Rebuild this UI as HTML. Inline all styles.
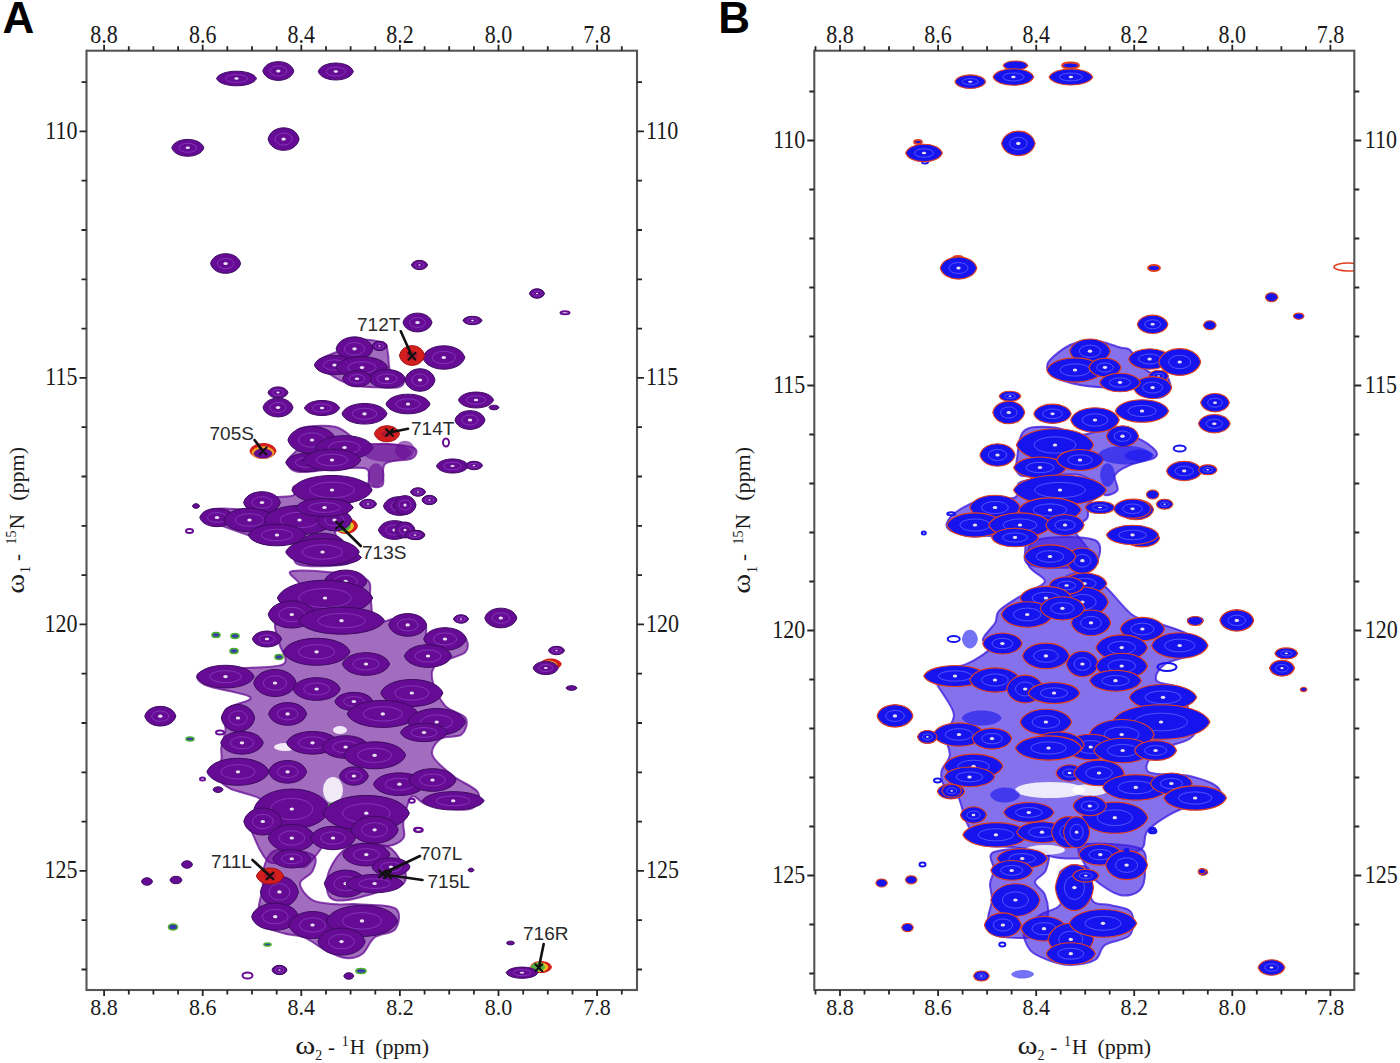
<!DOCTYPE html>
<html><head><meta charset="utf-8"><title>NMR spectra</title>
<style>html,body{margin:0;padding:0;background:#fff;}body{width:1400px;height:1063px;overflow:hidden;}svg{display:block;}</style>
</head><body>
<svg width="1400" height="1063" viewBox="0 0 1400 1063"><g font-family="Liberation Serif, serif" font-size="22" fill="#1a1a1a"></g><g font-family="Liberation Sans, sans-serif" font-weight="bold" font-size="44" fill="#000"><text x="2.6" y="32.6">A</text><text x="718.2" y="32.6">B</text></g><text transform="translate(295.3,1053.6) scale(1.45,1.2)" font-family="Liberation Serif, serif" fill="#1a1a1a" font-size="21">ω</text>
<text x="315.3" y="1060" font-family="Liberation Serif, serif" fill="#1a1a1a" font-size="14">2</text>
<text x="328.0" y="1053.6" font-family="Liberation Serif, serif" fill="#1a1a1a" font-size="21">-</text>
<text x="341.8" y="1046" font-family="Liberation Serif, serif" fill="#1a1a1a" font-size="14">1</text>
<text x="349.7" y="1053.6" font-family="Liberation Serif, serif" fill="#1a1a1a" font-size="21">H</text>
<text x="375.2" y="1053.6" font-family="Liberation Serif, serif" fill="#1a1a1a" font-size="22">(ppm)</text><text transform="translate(1017.5,1053.6) scale(1.45,1.2)" font-family="Liberation Serif, serif" fill="#1a1a1a" font-size="21">ω</text>
<text x="1037.5" y="1060" font-family="Liberation Serif, serif" fill="#1a1a1a" font-size="14">2</text>
<text x="1050.2" y="1053.6" font-family="Liberation Serif, serif" fill="#1a1a1a" font-size="21">-</text>
<text x="1064.0" y="1046" font-family="Liberation Serif, serif" fill="#1a1a1a" font-size="14">1</text>
<text x="1071.9" y="1053.6" font-family="Liberation Serif, serif" fill="#1a1a1a" font-size="21">H</text>
<text x="1097.4" y="1053.6" font-family="Liberation Serif, serif" fill="#1a1a1a" font-size="22">(ppm)</text><g transform="translate(23.5,0) rotate(-90)">
<text transform="translate(-593.8,0) scale(1.45,1.2)" font-family="Liberation Serif, serif" fill="#1a1a1a" font-size="21">ω</text>
<text x="-573" y="6.5" font-family="Liberation Serif, serif" fill="#1a1a1a" font-size="14">1</text>
<text x="-561" y="0" font-family="Liberation Serif, serif" fill="#1a1a1a" font-size="21">-</text>
<text x="-544.5" y="-7.5" font-family="Liberation Serif, serif" fill="#1a1a1a" font-size="14">15</text>
<text x="-529.3" y="0" font-family="Liberation Serif, serif" fill="#1a1a1a" font-size="21">N</text>
<text x="-500.8" y="0" font-family="Liberation Serif, serif" fill="#1a1a1a" font-size="22">(ppm)</text>
</g><g transform="translate(750.2,0) rotate(-90)">
<text transform="translate(-593.8,0) scale(1.45,1.2)" font-family="Liberation Serif, serif" fill="#1a1a1a" font-size="21">ω</text>
<text x="-573" y="6.5" font-family="Liberation Serif, serif" fill="#1a1a1a" font-size="14">1</text>
<text x="-561" y="0" font-family="Liberation Serif, serif" fill="#1a1a1a" font-size="21">-</text>
<text x="-544.5" y="-7.5" font-family="Liberation Serif, serif" fill="#1a1a1a" font-size="14">15</text>
<text x="-529.3" y="0" font-family="Liberation Serif, serif" fill="#1a1a1a" font-size="21">N</text>
<text x="-500.8" y="0" font-family="Liberation Serif, serif" fill="#1a1a1a" font-size="22">(ppm)</text>
</g><clipPath id="clipA"><rect x="86.5" y="50.7" width="550.5" height="939.3"/></clipPath>
<g clip-path="url(#clipA)">
<path d="M292.9 571.0C303.3 569.6 349.3 572.8 362.2 577.3C375.1 581.8 368.3 590.4 370.4 598.0C372.5 605.6 370.5 619.3 374.6 622.8C378.8 626.2 387.0 618.7 395.3 618.7C403.6 618.7 418.7 619.3 424.2 622.8C429.7 626.2 422.2 637.3 428.4 639.4C434.6 641.5 455.3 633.1 461.5 635.2C467.7 637.3 469.7 647.0 465.6 651.8C461.5 656.6 442.2 659.4 436.7 664.2C431.2 669.0 431.1 673.9 432.5 680.8C433.9 687.7 439.5 699.4 445.0 705.6C450.5 711.8 462.9 713.2 465.6 718.0C468.4 722.8 465.6 731.1 461.5 734.6C457.4 738.1 445.6 735.2 440.8 738.7C436.0 742.2 430.4 749.1 432.5 755.3C434.6 761.5 445.6 769.8 453.2 776.0C460.8 782.2 475.2 787.0 478.0 792.5C480.8 798.0 478.1 806.9 469.8 809.0C461.5 811.1 438.1 807.0 428.4 805.0C418.7 803.0 415.9 794.0 411.8 796.7C407.7 799.5 404.9 814.6 403.5 821.5C402.1 828.4 406.2 833.9 403.5 838.0C400.8 842.1 395.3 844.9 387.0 846.3C378.7 847.7 362.2 849.0 353.9 846.3C345.6 843.5 343.5 828.4 337.3 829.8C331.1 831.2 322.1 848.4 316.6 854.6C311.1 860.8 309.0 865.6 304.2 867.0C299.4 868.4 293.1 863.6 287.6 862.9C282.1 862.2 275.1 864.3 271.0 862.9C266.9 861.5 265.6 858.8 262.8 854.6C260.1 850.5 256.6 843.5 254.5 838.0C252.4 832.5 249.0 827.7 250.4 821.5C251.8 815.3 266.2 806.3 262.8 800.8C259.4 795.3 237.3 792.5 229.7 788.4C222.1 784.3 218.7 780.8 217.3 776.0C215.9 771.2 220.7 764.2 221.4 759.4C222.1 754.6 220.7 751.8 221.4 747.0C222.1 742.2 224.8 736.6 225.5 730.4C226.2 724.2 221.3 715.2 225.5 709.7C229.7 704.2 253.8 701.4 250.4 697.3C247.0 693.2 213.1 689.0 204.8 684.9C196.5 680.8 194.5 675.3 200.7 672.5C206.9 669.7 228.3 669.7 242.1 668.3C255.9 666.9 277.3 668.3 283.5 664.2C289.7 660.1 280.8 650.4 279.4 643.5C278.0 636.6 273.8 629.7 275.2 622.8C276.6 615.9 283.5 608.3 287.6 602.1C291.7 595.9 299.1 590.7 300.0 585.5C300.9 580.3 282.5 572.4 292.9 571.0Z" fill="#660c94" fill-opacity="0.6" stroke="#660c94" stroke-opacity="0.75" stroke-width="2"/>
<path d="M275.2 850.5C283.5 847.7 306.3 851.1 312.5 854.6C318.7 858.1 314.6 866.4 312.5 871.2C310.4 876.0 300.0 878.8 300.0 883.6C300.0 888.4 306.3 896.8 312.5 900.2C318.7 903.7 329.7 903.6 337.3 904.3C344.9 905.0 348.3 903.6 358.0 904.3C367.7 905.0 389.1 904.3 395.3 908.4C401.5 912.5 398.8 924.3 395.3 929.1C391.9 933.9 380.1 933.2 374.6 937.4C369.1 941.5 367.0 950.5 362.2 954.0C357.4 957.5 351.8 958.8 345.6 958.1C339.4 957.4 331.8 953.2 324.9 949.8C318.0 946.3 311.1 940.1 304.2 937.4C297.3 934.6 290.4 935.4 283.5 933.3C276.6 931.2 266.9 929.1 262.8 925.0C258.7 920.9 258.7 914.6 258.7 908.4C258.7 902.2 262.1 893.9 262.8 887.7C263.5 881.5 260.7 877.4 262.8 871.2C264.9 865.0 266.9 853.3 275.2 850.5Z" fill="#660c94" fill-opacity="0.6" stroke="#660c94" stroke-opacity="0.75" stroke-width="2"/>
<path d="M349.7 846.3C359.4 842.1 378.0 842.8 387.0 846.3C396.0 849.8 400.8 860.8 403.5 867.0C406.2 873.2 407.6 879.5 403.5 883.6C399.4 887.8 388.3 889.1 378.7 891.9C369.1 894.7 353.9 899.5 345.6 900.2C337.3 900.9 331.8 900.8 329.0 896.0C326.2 891.2 325.6 879.5 329.0 871.2C332.4 862.9 340.0 850.4 349.7 846.3Z" fill="#660c94" fill-opacity="0.6" stroke="#660c94" stroke-opacity="0.75" stroke-width="2"/>
<path d="M298.0 429.5C304.2 426.0 324.4 424.6 335.0 426.8C345.6 429.0 352.6 439.8 361.4 442.7C370.2 445.6 379.0 443.1 387.8 444.0C396.6 444.9 410.3 445.6 414.3 448.0C418.3 450.4 416.5 456.0 411.6 458.6C406.8 461.2 390.0 459.4 385.2 463.8C380.4 468.2 385.2 481.5 382.6 485.0C380.0 488.5 372.0 487.7 369.3 485.0C366.6 482.3 372.4 471.7 366.7 469.0C361.0 466.3 346.4 468.5 335.0 469.0C323.6 469.5 305.9 473.1 298.0 471.8C290.1 470.5 287.4 465.2 287.4 461.2C287.4 457.2 296.2 453.3 298.0 448.0C299.8 442.7 291.8 433.0 298.0 429.5Z" fill="#660c94" fill-opacity="0.6" stroke="#660c94" stroke-opacity="0.75" stroke-width="2"/>
<path d="M298.0 485.0C309.4 482.8 349.9 481.4 361.4 482.3C372.8 483.2 368.5 487.2 366.7 490.3C364.9 493.4 354.3 496.0 350.8 500.8C347.3 505.6 345.6 514.9 345.6 519.3C345.6 523.7 352.6 525.1 350.8 527.3C349.0 529.5 335.0 528.2 335.0 532.6C335.0 537.0 349.0 548.4 350.8 553.7C352.6 559.0 354.4 562.5 345.6 564.3C336.8 566.1 306.8 567.8 298.0 564.3C289.2 560.8 298.0 547.1 292.7 543.1C287.4 539.1 278.6 543.6 266.3 540.5C254.0 537.4 229.3 528.6 218.7 524.6C208.1 520.6 202.9 519.3 202.9 516.7C202.9 514.1 210.8 510.1 218.7 508.8C226.6 507.5 243.3 510.6 250.4 508.8C257.4 507.0 253.9 500.4 261.0 498.2C268.1 496.0 286.5 497.8 292.7 495.6C298.9 493.4 286.6 487.2 298.0 485.0Z" fill="#660c94" fill-opacity="0.6" stroke="#660c94" stroke-opacity="0.75" stroke-width="2"/>
<path d="M319.1 360.8C320.9 356.8 335.0 353.7 340.3 350.2C345.6 346.7 343.8 340.9 350.8 339.6C357.9 338.3 376.4 340.1 382.6 342.3C388.8 344.5 386.5 348.0 387.8 352.9C389.1 357.8 387.9 367.0 390.5 371.4C393.1 375.8 402.4 376.7 403.7 379.3C405.0 381.9 403.7 385.9 398.4 387.2C393.1 388.5 379.9 387.6 372.0 387.2C364.1 386.8 357.9 386.8 350.8 384.6C343.8 382.4 335.0 378.0 329.7 374.0C324.4 370.0 317.3 364.8 319.1 360.8Z" fill="#660c94" fill-opacity="0.6" stroke="#660c94" stroke-opacity="0.75" stroke-width="2"/>
<ellipse cx="333" cy="790" rx="10.0" ry="13.0" fill="#fff" fill-opacity="0.85"/>
<ellipse cx="285" cy="747" rx="11.0" ry="4.0" fill="#fff" fill-opacity="0.85"/>
<ellipse cx="340" cy="730" rx="7.0" ry="4.0" fill="#fff" fill-opacity="0.85"/>
<path d="M216.5 78.5C220.5 68.8 252.5 68.8 256.5 78.5C252.5 88.2 220.5 88.2 216.5 78.5Z" fill="#660c94" stroke="#3c0a60" stroke-width="1"/>
<ellipse cx="236.5" cy="78.5" rx="11.0" ry="3.9" fill="none" stroke="#8a3cc0" stroke-width="1" stroke-opacity="0.8"/>
<ellipse cx="236.5" cy="78.5" rx="2.2" ry="1.2" fill="#e8e0f0"/>
<path d="M262.8 71.0C265.9 58.5 290.7 58.5 293.8 71.0C290.7 83.5 265.9 83.5 262.8 71.0Z" fill="#660c94" stroke="#3c0a60" stroke-width="1"/>
<ellipse cx="278.3" cy="71.0" rx="8.5" ry="5.0" fill="none" stroke="#8a3cc0" stroke-width="1" stroke-opacity="0.8"/>
<ellipse cx="278.3" cy="71.0" rx="2.2" ry="1.5" fill="#e8e0f0"/>
<path d="M318.3 71.5C321.8 60.2 349.8 60.2 353.3 71.5C349.8 82.8 321.8 82.8 318.3 71.5Z" fill="#660c94" stroke="#3c0a60" stroke-width="1"/>
<ellipse cx="335.8" cy="71.5" rx="9.6" ry="4.5" fill="none" stroke="#8a3cc0" stroke-width="1" stroke-opacity="0.8"/>
<ellipse cx="335.8" cy="71.5" rx="2.2" ry="1.3" fill="#e8e0f0"/>
<path d="M171.8 147.8C175.0 136.6 200.6 136.6 203.8 147.8C200.6 159.1 175.0 159.1 171.8 147.8Z" fill="#660c94" stroke="#3c0a60" stroke-width="1"/>
<ellipse cx="187.8" cy="147.8" rx="8.8" ry="4.5" fill="none" stroke="#8a3cc0" stroke-width="1" stroke-opacity="0.8"/>
<ellipse cx="187.8" cy="147.8" rx="2.2" ry="1.3" fill="#e8e0f0"/>
<path d="M268.1 139.1C271.2 124.1 296.0 124.1 299.1 139.1C296.0 154.1 271.2 154.1 268.1 139.1Z" fill="#660c94" stroke="#3c0a60" stroke-width="1"/>
<ellipse cx="283.6" cy="139.1" rx="8.5" ry="6.0" fill="none" stroke="#8a3cc0" stroke-width="1" stroke-opacity="0.8"/>
<ellipse cx="283.6" cy="139.1" rx="2.2" ry="1.6" fill="#e8e0f0"/>
<path d="M210.6 263.5C213.6 250.4 237.6 250.4 240.6 263.5C237.6 276.6 213.6 276.6 210.6 263.5Z" fill="#660c94" stroke="#3c0a60" stroke-width="1"/>
<ellipse cx="225.6" cy="263.5" rx="8.2" ry="5.2" fill="none" stroke="#8a3cc0" stroke-width="1" stroke-opacity="0.8"/>
<ellipse cx="225.6" cy="263.5" rx="2.2" ry="1.6" fill="#e8e0f0"/>
<path d="M411.5 265.0C413.1 258.8 425.9 258.8 427.5 265.0C425.9 271.2 413.1 271.2 411.5 265.0Z" fill="#660c94" stroke="#3c0a60" stroke-width="1"/>
<ellipse cx="419.5" cy="265.0" rx="4.4" ry="2.5" fill="none" stroke="#8a3cc0" stroke-width="1" stroke-opacity="0.8"/>
<ellipse cx="419.5" cy="265.0" rx="1.2" ry="0.8" fill="#e8e0f0"/>
<path d="M529.5 293.5C531.0 287.2 543.0 287.2 544.5 293.5C543.0 299.8 531.0 299.8 529.5 293.5Z" fill="#660c94" stroke="#3c0a60" stroke-width="1"/>
<ellipse cx="537.0" cy="293.5" rx="4.1" ry="2.5" fill="none" stroke="#8a3cc0" stroke-width="1" stroke-opacity="0.8"/>
<ellipse cx="537.0" cy="293.5" rx="1.1" ry="0.8" fill="#e8e0f0"/>
<ellipse cx="565.0" cy="312.8" rx="4.5" ry="1.5" fill="none" stroke="#660c94" stroke-width="2"/>
<path d="M403.0 322.5C405.9 310.0 429.1 310.0 432.0 322.5C429.1 335.0 405.9 335.0 403.0 322.5Z" fill="#660c94" stroke="#3c0a60" stroke-width="1"/>
<ellipse cx="417.5" cy="322.5" rx="8.0" ry="5.0" fill="none" stroke="#8a3cc0" stroke-width="1" stroke-opacity="0.8"/>
<ellipse cx="417.5" cy="322.5" rx="2.2" ry="1.5" fill="#e8e0f0"/>
<path d="M336.1 348.8C339.8 332.9 369.2 332.9 372.9 348.8C369.2 364.6 339.8 364.6 336.1 348.8Z" fill="#660c94" stroke="#3c0a60" stroke-width="1"/>
<ellipse cx="354.5" cy="348.8" rx="10.1" ry="6.3" fill="none" stroke="#8a3cc0" stroke-width="1" stroke-opacity="0.8"/>
<ellipse cx="354.5" cy="348.8" rx="2.2" ry="1.6" fill="#e8e0f0"/>
<path d="M372.0 346.0C373.5 339.8 385.5 339.8 387.0 346.0C385.5 352.2 373.5 352.2 372.0 346.0Z" fill="#660c94" stroke="#3c0a60" stroke-width="1"/>
<ellipse cx="379.5" cy="346.0" rx="4.1" ry="2.5" fill="none" stroke="#8a3cc0" stroke-width="1" stroke-opacity="0.8"/>
<ellipse cx="379.5" cy="346.0" rx="1.1" ry="0.8" fill="#e8e0f0"/>
<path d="M314.4 365.0C318.4 352.1 350.6 352.1 354.6 365.0C350.6 377.9 318.4 377.9 314.4 365.0Z" fill="#660c94" stroke="#3c0a60" stroke-width="1"/>
<ellipse cx="334.5" cy="365.0" rx="11.1" ry="5.2" fill="none" stroke="#8a3cc0" stroke-width="1" stroke-opacity="0.8"/>
<ellipse cx="334.5" cy="365.0" rx="2.2" ry="1.6" fill="#e8e0f0"/>
<path d="M336.1 367.5C341.3 353.1 382.7 353.1 387.9 367.5C382.7 381.9 341.3 381.9 336.1 367.5Z" fill="#660c94" stroke="#3c0a60" stroke-width="1"/>
<ellipse cx="362.0" cy="367.5" rx="14.2" ry="5.8" fill="none" stroke="#8a3cc0" stroke-width="1" stroke-opacity="0.8"/>
<ellipse cx="362.0" cy="367.5" rx="2.2" ry="1.6" fill="#e8e0f0"/>
<path d="M368.6 378.8C372.3 366.5 401.7 366.5 405.4 378.8C401.7 391.0 372.3 391.0 368.6 378.8Z" fill="#660c94" stroke="#3c0a60" stroke-width="1"/>
<ellipse cx="387.0" cy="378.8" rx="10.1" ry="4.9" fill="none" stroke="#8a3cc0" stroke-width="1" stroke-opacity="0.8"/>
<ellipse cx="387.0" cy="378.8" rx="2.2" ry="1.5" fill="#e8e0f0"/>
<path d="M342.6 378.8C345.5 368.0 368.5 368.0 371.4 378.8C368.5 389.5 345.5 389.5 342.6 378.8Z" fill="#660c94" stroke="#3c0a60" stroke-width="1"/>
<ellipse cx="357.0" cy="378.8" rx="7.9" ry="4.3" fill="none" stroke="#8a3cc0" stroke-width="1" stroke-opacity="0.8"/>
<ellipse cx="357.0" cy="378.8" rx="2.2" ry="1.3" fill="#e8e0f0"/>
<path d="M405.0 380.0C408.0 365.0 432.0 365.0 435.0 380.0C432.0 395.0 408.0 395.0 405.0 380.0Z" fill="#660c94" stroke="#3c0a60" stroke-width="1"/>
<ellipse cx="420.0" cy="380.0" rx="8.2" ry="6.0" fill="none" stroke="#8a3cc0" stroke-width="1" stroke-opacity="0.8"/>
<ellipse cx="420.0" cy="380.0" rx="2.2" ry="1.6" fill="#e8e0f0"/>
<path d="M268.0 392.5C270.0 385.0 286.0 385.0 288.0 392.5C286.0 400.0 270.0 400.0 268.0 392.5Z" fill="#660c94" stroke="#3c0a60" stroke-width="1"/>
<ellipse cx="278.0" cy="392.5" rx="5.5" ry="3.0" fill="none" stroke="#8a3cc0" stroke-width="1" stroke-opacity="0.8"/>
<ellipse cx="278.0" cy="392.5" rx="1.5" ry="0.9" fill="#e8e0f0"/>
<path d="M263.0 407.5C266.0 395.0 290.0 395.0 293.0 407.5C290.0 420.0 266.0 420.0 263.0 407.5Z" fill="#660c94" stroke="#3c0a60" stroke-width="1"/>
<ellipse cx="278.0" cy="407.5" rx="8.2" ry="5.0" fill="none" stroke="#8a3cc0" stroke-width="1" stroke-opacity="0.8"/>
<ellipse cx="278.0" cy="407.5" rx="2.2" ry="1.5" fill="#e8e0f0"/>
<path d="M304.5 408.0C308.0 398.0 336.0 398.0 339.5 408.0C336.0 418.0 308.0 418.0 304.5 408.0Z" fill="#660c94" stroke="#3c0a60" stroke-width="1"/>
<ellipse cx="322.0" cy="408.0" rx="9.6" ry="4.0" fill="none" stroke="#8a3cc0" stroke-width="1" stroke-opacity="0.8"/>
<ellipse cx="322.0" cy="408.0" rx="2.2" ry="1.2" fill="#e8e0f0"/>
<path d="M342.0 413.8C346.5 400.0 382.5 400.0 387.0 413.8C382.5 427.5 346.5 427.5 342.0 413.8Z" fill="#660c94" stroke="#3c0a60" stroke-width="1"/>
<ellipse cx="364.5" cy="413.8" rx="12.4" ry="5.5" fill="none" stroke="#8a3cc0" stroke-width="1" stroke-opacity="0.8"/>
<ellipse cx="364.5" cy="413.8" rx="2.2" ry="1.6" fill="#e8e0f0"/>
<path d="M386.0 404.0C390.4 390.9 425.6 390.9 430.0 404.0C425.6 417.1 390.4 417.1 386.0 404.0Z" fill="#660c94" stroke="#3c0a60" stroke-width="1"/>
<ellipse cx="408.0" cy="404.0" rx="12.1" ry="5.2" fill="none" stroke="#8a3cc0" stroke-width="1" stroke-opacity="0.8"/>
<ellipse cx="408.0" cy="404.0" rx="2.2" ry="1.6" fill="#e8e0f0"/>
<path d="M287.9 440.0C292.7 422.0 331.3 422.0 336.1 440.0C331.3 458.0 292.7 458.0 287.9 440.0Z" fill="#660c94" stroke="#3c0a60" stroke-width="1"/>
<ellipse cx="312.0" cy="440.0" rx="13.3" ry="7.2" fill="none" stroke="#8a3cc0" stroke-width="1" stroke-opacity="0.8"/>
<ellipse cx="312.0" cy="440.0" rx="2.2" ry="1.6" fill="#e8e0f0"/>
<path d="M315.8 447.5C321.5 431.7 367.5 431.7 373.2 447.5C367.5 463.3 321.5 463.3 315.8 447.5Z" fill="#660c94" stroke="#3c0a60" stroke-width="1"/>
<ellipse cx="344.5" cy="447.5" rx="15.8" ry="6.3" fill="none" stroke="#8a3cc0" stroke-width="1" stroke-opacity="0.8"/>
<ellipse cx="344.5" cy="447.5" rx="2.2" ry="1.6" fill="#e8e0f0"/>
<path d="M285.7 462.5C290.0 450.3 324.0 450.3 328.3 462.5C324.0 474.7 290.0 474.7 285.7 462.5Z" fill="#660c94" stroke="#3c0a60" stroke-width="1"/>
<ellipse cx="307.0" cy="462.5" rx="11.7" ry="4.9" fill="none" stroke="#8a3cc0" stroke-width="1" stroke-opacity="0.8"/>
<ellipse cx="307.0" cy="462.5" rx="2.2" ry="1.5" fill="#e8e0f0"/>
<path d="M303.2 460.0C309.0 445.6 355.0 445.6 360.8 460.0C355.0 474.4 309.0 474.4 303.2 460.0Z" fill="#660c94" stroke="#3c0a60" stroke-width="1"/>
<ellipse cx="332.0" cy="460.0" rx="15.8" ry="5.8" fill="none" stroke="#8a3cc0" stroke-width="1" stroke-opacity="0.8"/>
<ellipse cx="332.0" cy="460.0" rx="2.2" ry="1.6" fill="#e8e0f0"/>
<path d="M362.0 452.5C367.0 440.0 407.0 440.0 412.0 452.5C407.0 465.0 367.0 465.0 362.0 452.5Z" fill="#660c94" fill-opacity="0.6"/>
<path d="M367.5 475.0C369.2 459.4 382.8 459.4 384.5 475.0C382.8 490.6 369.2 490.6 367.5 475.0Z" fill="#660c94" fill-opacity="0.6"/>
<path d="M291.8 490.0C299.8 470.6 364.2 470.6 372.2 490.0C364.2 509.4 299.8 509.4 291.8 490.0Z" fill="#660c94" stroke="#3c0a60" stroke-width="1"/>
<ellipse cx="332.0" cy="490.0" rx="22.1" ry="7.8" fill="none" stroke="#8a3cc0" stroke-width="1" stroke-opacity="0.8"/>
<ellipse cx="332.0" cy="490.0" rx="2.2" ry="1.6" fill="#e8e0f0"/>
<path d="M243.6 502.5C247.3 488.1 276.7 488.1 280.4 502.5C276.7 516.9 247.3 516.9 243.6 502.5Z" fill="#660c94" stroke="#3c0a60" stroke-width="1"/>
<ellipse cx="262.0" cy="502.5" rx="10.1" ry="5.8" fill="none" stroke="#8a3cc0" stroke-width="1" stroke-opacity="0.8"/>
<ellipse cx="262.0" cy="502.5" rx="2.2" ry="1.6" fill="#e8e0f0"/>
<path d="M199.8 517.5C203.2 505.3 230.8 505.3 234.2 517.5C230.8 529.7 203.2 529.7 199.8 517.5Z" fill="#660c94" stroke="#3c0a60" stroke-width="1"/>
<ellipse cx="217.0" cy="517.5" rx="9.5" ry="4.9" fill="none" stroke="#8a3cc0" stroke-width="1" stroke-opacity="0.8"/>
<ellipse cx="217.0" cy="517.5" rx="2.2" ry="1.5" fill="#e8e0f0"/>
<path d="M223.6 520.0C228.8 504.2 270.2 504.2 275.4 520.0C270.2 535.8 228.8 535.8 223.6 520.0Z" fill="#660c94" stroke="#3c0a60" stroke-width="1"/>
<ellipse cx="249.5" cy="520.0" rx="14.2" ry="6.3" fill="none" stroke="#8a3cc0" stroke-width="1" stroke-opacity="0.8"/>
<ellipse cx="249.5" cy="520.0" rx="2.2" ry="1.6" fill="#e8e0f0"/>
<path d="M263.9 520.0C271.0 500.6 328.0 500.6 335.1 520.0C328.0 539.4 271.0 539.4 263.9 520.0Z" fill="#660c94" stroke="#3c0a60" stroke-width="1"/>
<ellipse cx="299.5" cy="520.0" rx="19.6" ry="7.8" fill="none" stroke="#8a3cc0" stroke-width="1" stroke-opacity="0.8"/>
<ellipse cx="299.5" cy="520.0" rx="2.2" ry="1.6" fill="#e8e0f0"/>
<path d="M248.2 535.0C254.0 520.6 300.0 520.6 305.8 535.0C300.0 549.4 254.0 549.4 248.2 535.0Z" fill="#660c94" stroke="#3c0a60" stroke-width="1"/>
<ellipse cx="277.0" cy="535.0" rx="15.8" ry="5.8" fill="none" stroke="#8a3cc0" stroke-width="1" stroke-opacity="0.8"/>
<ellipse cx="277.0" cy="535.0" rx="2.2" ry="1.6" fill="#e8e0f0"/>
<path d="M334.0 526.0C336.4 515.4 355.6 515.4 358.0 526.0C355.6 536.6 336.4 536.6 334.0 526.0Z" fill="#d41e1e"/>
<path d="M334.9 526.0C336.8 517.5 352.2 517.5 354.1 526.0C352.2 534.5 336.8 534.5 334.9 526.0Z" fill="#e8c020"/>
<path d="M335.2 526.0C336.8 518.6 349.2 518.6 350.8 526.0C349.2 533.4 336.8 533.4 335.2 526.0Z" fill="#50b040"/>
<path d="M317.2 520.0C320.7 505.6 348.3 505.6 351.8 520.0C348.3 534.4 320.7 534.4 317.2 520.0Z" fill="#660c94" stroke="#3c0a60" stroke-width="1"/>
<ellipse cx="334.5" cy="520.0" rx="9.5" ry="5.8" fill="none" stroke="#8a3cc0" stroke-width="1" stroke-opacity="0.8"/>
<ellipse cx="334.5" cy="520.0" rx="2.2" ry="1.6" fill="#e8e0f0"/>
<path d="M295.8 507.5C301.5 495.3 347.5 495.3 353.2 507.5C347.5 519.7 301.5 519.7 295.8 507.5Z" fill="#660c94" stroke="#3c0a60" stroke-width="1"/>
<ellipse cx="324.5" cy="507.5" rx="15.8" ry="4.9" fill="none" stroke="#8a3cc0" stroke-width="1" stroke-opacity="0.8"/>
<ellipse cx="324.5" cy="507.5" rx="2.2" ry="1.5" fill="#e8e0f0"/>
<path d="M192.5 506.0C193.2 502.9 198.8 502.9 199.5 506.0C198.8 509.1 193.2 509.1 192.5 506.0Z" fill="#660c94" stroke="#3c0a60" stroke-width="1"/>
<ellipse cx="189.5" cy="531.0" rx="3.5" ry="2.0" fill="none" stroke="#660c94" stroke-width="2"/>
<path d="M299.0 544.0C303.6 529.6 340.4 529.6 345.0 544.0C340.4 558.4 303.6 558.4 299.0 544.0Z" fill="#660c94" stroke="#3c0a60" stroke-width="1"/>
<ellipse cx="322.0" cy="544.0" rx="12.7" ry="5.8" fill="none" stroke="#8a3cc0" stroke-width="1" stroke-opacity="0.8"/>
<ellipse cx="322.0" cy="544.0" rx="2.2" ry="1.6" fill="#e8e0f0"/>
<path d="M292.5 557.5C299.4 546.7 354.6 546.7 361.5 557.5C354.6 568.3 299.4 568.3 292.5 557.5Z" fill="#660c94" stroke="#3c0a60" stroke-width="1"/>
<ellipse cx="327.0" cy="557.5" rx="19.0" ry="4.3" fill="none" stroke="#8a3cc0" stroke-width="1" stroke-opacity="0.8"/>
<ellipse cx="327.0" cy="557.5" rx="2.2" ry="1.3" fill="#e8e0f0"/>
<path d="M410.5 492.0C412.0 486.4 424.0 486.4 425.5 492.0C424.0 497.6 412.0 497.6 410.5 492.0Z" fill="#660c94" stroke="#3c0a60" stroke-width="1"/>
<ellipse cx="418.0" cy="492.0" rx="4.1" ry="2.2" fill="none" stroke="#8a3cc0" stroke-width="1" stroke-opacity="0.8"/>
<ellipse cx="418.0" cy="492.0" rx="1.1" ry="0.7" fill="#e8e0f0"/>
<path d="M422.0 500.0C423.5 493.8 435.5 493.8 437.0 500.0C435.5 506.2 423.5 506.2 422.0 500.0Z" fill="#660c94" stroke="#3c0a60" stroke-width="1"/>
<ellipse cx="429.5" cy="500.0" rx="4.1" ry="2.5" fill="none" stroke="#8a3cc0" stroke-width="1" stroke-opacity="0.8"/>
<ellipse cx="429.5" cy="500.0" rx="1.1" ry="0.8" fill="#e8e0f0"/>
<path d="M359.5 504.0C361.2 497.8 374.8 497.8 376.5 504.0C374.8 510.2 361.2 510.2 359.5 504.0Z" fill="#660c94" stroke="#3c0a60" stroke-width="1"/>
<ellipse cx="368.0" cy="504.0" rx="4.7" ry="2.5" fill="none" stroke="#8a3cc0" stroke-width="1" stroke-opacity="0.8"/>
<ellipse cx="368.0" cy="504.0" rx="1.3" ry="0.8" fill="#e8e0f0"/>
<path d="M383.5 506.0C386.7 493.5 412.3 493.5 415.5 506.0C412.3 518.5 386.7 518.5 383.5 506.0Z" fill="#660c94" stroke="#3c0a60" stroke-width="1"/>
<ellipse cx="399.5" cy="506.0" rx="8.8" ry="5.0" fill="none" stroke="#8a3cc0" stroke-width="1" stroke-opacity="0.8"/>
<ellipse cx="399.5" cy="506.0" rx="2.2" ry="1.5" fill="#e8e0f0"/>
<path d="M378.5 530.0C381.7 517.5 407.3 517.5 410.5 530.0C407.3 542.5 381.7 542.5 378.5 530.0Z" fill="#660c94" stroke="#3c0a60" stroke-width="1"/>
<ellipse cx="394.5" cy="530.0" rx="8.8" ry="5.0" fill="none" stroke="#8a3cc0" stroke-width="1" stroke-opacity="0.8"/>
<ellipse cx="394.5" cy="530.0" rx="2.2" ry="1.5" fill="#e8e0f0"/>
<path d="M409.5 535.0C411.0 528.8 423.0 528.8 424.5 535.0C423.0 541.2 411.0 541.2 409.5 535.0Z" fill="#660c94" stroke="#3c0a60" stroke-width="1"/>
<ellipse cx="417.0" cy="535.0" rx="4.1" ry="2.5" fill="none" stroke="#8a3cc0" stroke-width="1" stroke-opacity="0.8"/>
<ellipse cx="417.0" cy="535.0" rx="1.1" ry="0.8" fill="#e8e0f0"/>
<path d="M463.0 320.5C464.9 314.9 480.1 314.9 482.0 320.5C480.1 326.1 464.9 326.1 463.0 320.5Z" fill="#660c94" stroke="#3c0a60" stroke-width="1"/>
<ellipse cx="472.5" cy="320.5" rx="5.2" ry="2.2" fill="none" stroke="#8a3cc0" stroke-width="1" stroke-opacity="0.8"/>
<ellipse cx="472.5" cy="320.5" rx="1.4" ry="0.7" fill="#e8e0f0"/>
<path d="M422.8 357.5C426.9 341.9 460.6 341.9 464.8 357.5C460.6 373.1 426.9 373.1 422.8 357.5Z" fill="#660c94" stroke="#3c0a60" stroke-width="1"/>
<ellipse cx="443.8" cy="357.5" rx="11.6" ry="6.2" fill="none" stroke="#8a3cc0" stroke-width="1" stroke-opacity="0.8"/>
<ellipse cx="443.8" cy="357.5" rx="2.2" ry="1.6" fill="#e8e0f0"/>
<path d="M458.5 400.0C462.0 389.4 490.0 389.4 493.5 400.0C490.0 410.6 462.0 410.6 458.5 400.0Z" fill="#660c94" stroke="#3c0a60" stroke-width="1"/>
<ellipse cx="476.0" cy="400.0" rx="9.6" ry="4.2" fill="none" stroke="#8a3cc0" stroke-width="1" stroke-opacity="0.8"/>
<ellipse cx="476.0" cy="400.0" rx="2.2" ry="1.3" fill="#e8e0f0"/>
<path d="M489.0 407.5C490.0 404.4 498.0 404.4 499.0 407.5C498.0 410.6 490.0 410.6 489.0 407.5Z" fill="#660c94" stroke="#3c0a60" stroke-width="1"/>
<path d="M455.0 420.0C458.0 407.5 482.0 407.5 485.0 420.0C482.0 432.5 458.0 432.5 455.0 420.0Z" fill="#660c94" stroke="#3c0a60" stroke-width="1"/>
<ellipse cx="470.0" cy="420.0" rx="8.2" ry="5.0" fill="none" stroke="#8a3cc0" stroke-width="1" stroke-opacity="0.8"/>
<ellipse cx="470.0" cy="420.0" rx="2.2" ry="1.5" fill="#e8e0f0"/>
<path d="M395.0 450.0C397.0 437.5 413.0 437.5 415.0 450.0C413.0 462.5 397.0 462.5 395.0 450.0Z" fill="#660c94" fill-opacity="0.6"/>
<ellipse cx="446.0" cy="442.5" rx="3.0" ry="4.0" fill="none" stroke="#660c94" stroke-width="2"/>
<path d="M436.5 466.0C439.7 456.6 465.3 456.6 468.5 466.0C465.3 475.4 439.7 475.4 436.5 466.0Z" fill="#660c94" stroke="#3c0a60" stroke-width="1"/>
<ellipse cx="452.5" cy="466.0" rx="8.8" ry="3.8" fill="none" stroke="#8a3cc0" stroke-width="1" stroke-opacity="0.8"/>
<ellipse cx="452.5" cy="466.0" rx="2.2" ry="1.1" fill="#e8e0f0"/>
<path d="M465.5 465.5C467.2 459.9 480.8 459.9 482.5 465.5C480.8 471.1 467.2 471.1 465.5 465.5Z" fill="#660c94" stroke="#3c0a60" stroke-width="1"/>
<ellipse cx="474.0" cy="465.5" rx="4.7" ry="2.2" fill="none" stroke="#8a3cc0" stroke-width="1" stroke-opacity="0.8"/>
<ellipse cx="474.0" cy="465.5" rx="1.3" ry="0.7" fill="#e8e0f0"/>
<path d="M394.0 505.0C396.2 492.5 413.8 492.5 416.0 505.0C413.8 517.5 396.2 517.5 394.0 505.0Z" fill="#660c94" stroke="#3c0a60" stroke-width="1"/>
<ellipse cx="405.0" cy="505.0" rx="6.1" ry="5.0" fill="none" stroke="#8a3cc0" stroke-width="1" stroke-opacity="0.8"/>
<ellipse cx="405.0" cy="505.0" rx="1.6" ry="1.5" fill="#e8e0f0"/>
<path d="M395.0 530.0C397.0 519.4 413.0 519.4 415.0 530.0C413.0 540.6 397.0 540.6 395.0 530.0Z" fill="#660c94" stroke="#3c0a60" stroke-width="1"/>
<ellipse cx="405.0" cy="530.0" rx="5.5" ry="4.2" fill="none" stroke="#8a3cc0" stroke-width="1" stroke-opacity="0.8"/>
<ellipse cx="405.0" cy="530.0" rx="1.5" ry="1.3" fill="#e8e0f0"/>
<path d="M405.0 535.0C407.0 528.8 423.0 528.8 425.0 535.0C423.0 541.2 407.0 541.2 405.0 535.0Z" fill="#660c94" stroke="#3c0a60" stroke-width="1"/>
<ellipse cx="415.0" cy="535.0" rx="5.5" ry="2.5" fill="none" stroke="#8a3cc0" stroke-width="1" stroke-opacity="0.8"/>
<ellipse cx="415.0" cy="535.0" rx="1.5" ry="0.8" fill="#e8e0f0"/>
<path d="M285.7 552.0C293.1 534.0 351.9 534.0 359.3 552.0C351.9 570.0 293.1 570.0 285.7 552.0Z" fill="#660c94" stroke="#3c0a60" stroke-width="1"/>
<ellipse cx="322.5" cy="552.0" rx="20.2" ry="7.2" fill="none" stroke="#8a3cc0" stroke-width="1" stroke-opacity="0.8"/>
<ellipse cx="322.5" cy="552.0" rx="2.2" ry="1.6" fill="#e8e0f0"/>
<path d="M453.5 619.0C455.0 613.4 467.0 613.4 468.5 619.0C467.0 624.6 455.0 624.6 453.5 619.0Z" fill="#660c94" stroke="#3c0a60" stroke-width="1"/>
<ellipse cx="461.0" cy="619.0" rx="4.1" ry="2.2" fill="none" stroke="#8a3cc0" stroke-width="1" stroke-opacity="0.8"/>
<ellipse cx="461.0" cy="619.0" rx="1.1" ry="0.7" fill="#e8e0f0"/>
<path d="M484.8 618.0C487.9 604.9 513.5 604.9 516.8 618.0C513.5 631.1 487.9 631.1 484.8 618.0Z" fill="#660c94" stroke="#3c0a60" stroke-width="1"/>
<ellipse cx="500.8" cy="618.0" rx="8.8" ry="5.2" fill="none" stroke="#8a3cc0" stroke-width="1" stroke-opacity="0.8"/>
<ellipse cx="500.8" cy="618.0" rx="2.2" ry="1.6" fill="#e8e0f0"/>
<ellipse cx="216.0" cy="635.0" rx="4.0" ry="2.5" fill="#3a3ab0" stroke="#4caf30" stroke-width="1.6"/>
<ellipse cx="235.0" cy="636.0" rx="4.0" ry="2.5" fill="#3a3ab0" stroke="#4caf30" stroke-width="1.6"/>
<ellipse cx="234.0" cy="651.0" rx="4.0" ry="2.5" fill="#3a3ab0" stroke="#4caf30" stroke-width="1.6"/>
<ellipse cx="279.0" cy="657.0" rx="4.0" ry="2.5" fill="#3a3ab0" stroke="#4caf30" stroke-width="1.6"/>
<path d="M144.8 716.2C147.9 703.1 172.7 703.1 175.8 716.2C172.7 729.3 147.9 729.3 144.8 716.2Z" fill="#660c94" stroke="#3c0a60" stroke-width="1"/>
<ellipse cx="160.3" cy="716.2" rx="8.5" ry="5.2" fill="none" stroke="#8a3cc0" stroke-width="1" stroke-opacity="0.8"/>
<ellipse cx="160.3" cy="716.2" rx="2.2" ry="1.6" fill="#e8e0f0"/>
<ellipse cx="220.0" cy="732.5" rx="4.0" ry="2.0" fill="none" stroke="#660c94" stroke-width="2"/>
<ellipse cx="190.0" cy="739.0" rx="4.0" ry="2.0" fill="#3a3ab0" stroke="#4caf30" stroke-width="1.6"/>
<ellipse cx="202.5" cy="779.0" rx="2.5" ry="1.5" fill="none" stroke="#660c94" stroke-width="2"/>
<path d="M213.0 789.6C214.0 785.9 222.0 785.9 223.0 789.6C222.0 793.4 214.0 793.4 213.0 789.6Z" fill="#660c94" stroke="#3c0a60" stroke-width="1"/>
<path d="M548.5 650.5C550.1 644.9 562.9 644.9 564.5 650.5C562.9 656.1 550.1 656.1 548.5 650.5Z" fill="#660c94" stroke="#3c0a60" stroke-width="1"/>
<ellipse cx="556.5" cy="650.5" rx="4.4" ry="2.2" fill="none" stroke="#8a3cc0" stroke-width="1" stroke-opacity="0.8"/>
<ellipse cx="556.5" cy="650.5" rx="1.2" ry="0.7" fill="#e8e0f0"/>
<path d="M539.8 664.0C542.0 656.5 559.5 656.5 561.8 664.0C559.5 671.5 542.0 671.5 539.8 664.0Z" fill="#d41e1e"/>
<path d="M540.0 665.0C541.7 659.0 555.8 659.0 557.5 665.0C555.8 671.0 541.7 671.0 540.0 665.0Z" fill="#f0a020"/>
<path d="M533.2 668.0C535.8 659.2 555.8 659.2 558.2 668.0C555.8 676.8 535.8 676.8 533.2 668.0Z" fill="#660c94" stroke="#3c0a60" stroke-width="1"/>
<ellipse cx="545.8" cy="668.0" rx="6.9" ry="3.5" fill="none" stroke="#8a3cc0" stroke-width="1" stroke-opacity="0.8"/>
<ellipse cx="545.8" cy="668.0" rx="1.9" ry="1.1" fill="#e8e0f0"/>
<path d="M566.0 688.0C567.1 684.9 575.9 684.9 577.0 688.0C575.9 691.1 567.1 691.1 566.0 688.0Z" fill="#660c94" stroke="#3c0a60" stroke-width="1"/>
<ellipse cx="418.8" cy="830.0" rx="4.0" ry="2.0" fill="none" stroke="#660c94" stroke-width="2"/>
<path d="M181.5 864.5C182.6 859.5 191.4 859.5 192.5 864.5C191.4 869.5 182.6 869.5 181.5 864.5Z" fill="#660c94" stroke="#3c0a60" stroke-width="1"/>
<path d="M170.0 880.0C171.2 875.0 180.8 875.0 182.0 880.0C180.8 885.0 171.2 885.0 170.0 880.0Z" fill="#660c94" stroke="#3c0a60" stroke-width="1"/>
<path d="M141.5 881.5C142.6 876.5 151.4 876.5 152.5 881.5C151.4 886.5 142.6 886.5 141.5 881.5Z" fill="#660c94" stroke="#3c0a60" stroke-width="1"/>
<ellipse cx="173.0" cy="927.0" rx="4.5" ry="3.0" fill="#3a3ab0" stroke="#4caf30" stroke-width="1.6"/>
<ellipse cx="267.5" cy="944.5" rx="3.5" ry="1.5" fill="#3a3ab0" stroke="#4caf30" stroke-width="1.6"/>
<path d="M272.0 970.0C273.5 963.8 285.5 963.8 287.0 970.0C285.5 976.2 273.5 976.2 272.0 970.0Z" fill="#660c94" stroke="#3c0a60" stroke-width="1"/>
<ellipse cx="279.5" cy="970.0" rx="4.1" ry="2.5" fill="none" stroke="#8a3cc0" stroke-width="1" stroke-opacity="0.8"/>
<ellipse cx="279.5" cy="970.0" rx="1.1" ry="0.8" fill="#e8e0f0"/>
<ellipse cx="247.5" cy="975.5" rx="5.0" ry="3.0" fill="none" stroke="#660c94" stroke-width="2"/>
<path d="M343.8 976.0C344.8 971.6 352.8 971.6 353.8 976.0C352.8 980.4 344.8 980.4 343.8 976.0Z" fill="#660c94" stroke="#3c0a60" stroke-width="1"/>
<ellipse cx="361.0" cy="971.0" rx="5.0" ry="2.5" fill="#3a3ab0" stroke="#4caf30" stroke-width="1.6"/>
<path d="M468.0 870.0C468.6 867.5 473.4 867.5 474.0 870.0C473.4 872.5 468.6 872.5 468.0 870.0Z" fill="#660c94" stroke="#3c0a60" stroke-width="1"/>
<path d="M530.0 967.0C532.2 958.9 549.8 958.9 552.0 967.0C549.8 975.1 532.2 975.1 530.0 967.0Z" fill="#d41e1e"/>
<path d="M530.7 967.0C532.5 960.5 546.5 960.5 548.3 967.0C546.5 973.5 532.5 973.5 530.7 967.0Z" fill="#e8c020"/>
<path d="M530.9 967.0C532.3 961.3 543.7 961.3 545.1 967.0C543.7 972.7 532.3 972.7 530.9 967.0Z" fill="#50b040"/>
<path d="M506.0 972.7C509.2 965.2 534.8 965.2 538.0 972.7C534.8 980.2 509.2 980.2 506.0 972.7Z" fill="#660c94" stroke="#3c0a60" stroke-width="1"/>
<ellipse cx="522.0" cy="972.7" rx="8.8" ry="3.0" fill="none" stroke="#8a3cc0" stroke-width="1" stroke-opacity="0.8"/>
<ellipse cx="522.0" cy="972.7" rx="2.2" ry="0.9" fill="#e8e0f0"/>
<path d="M506.5 943.0C507.3 940.5 513.7 940.5 514.5 943.0C513.7 945.5 507.3 945.5 506.5 943.0Z" fill="#660c94" stroke="#3c0a60" stroke-width="1"/>
<path d="M324.3 581.4C328.6 566.3 362.6 566.3 366.9 581.4C362.6 596.5 328.6 596.5 324.3 581.4Z" fill="#660c94" stroke="#3c0a60" stroke-width="1"/>
<ellipse cx="345.6" cy="581.4" rx="11.7" ry="6.0" fill="none" stroke="#8a3cc0" stroke-width="1" stroke-opacity="0.8"/>
<ellipse cx="345.6" cy="581.4" rx="2.2" ry="1.6" fill="#e8e0f0"/>
<path d="M277.3 598.0C286.8 574.3 363.2 574.3 372.7 598.0C363.2 621.7 286.8 621.7 277.3 598.0Z" fill="#660c94" stroke="#3c0a60" stroke-width="1"/>
<ellipse cx="325.0" cy="598.0" rx="26.2" ry="9.5" fill="none" stroke="#8a3cc0" stroke-width="1" stroke-opacity="0.8"/>
<ellipse cx="325.0" cy="598.0" rx="2.2" ry="1.6" fill="#e8e0f0"/>
<path d="M268.2 614.5C272.9 596.5 310.7 596.5 315.4 614.5C310.7 632.5 272.9 632.5 268.2 614.5Z" fill="#660c94" stroke="#3c0a60" stroke-width="1"/>
<ellipse cx="291.8" cy="614.5" rx="13.0" ry="7.2" fill="none" stroke="#8a3cc0" stroke-width="1" stroke-opacity="0.8"/>
<ellipse cx="291.8" cy="614.5" rx="2.2" ry="1.6" fill="#e8e0f0"/>
<path d="M298.4 620.7C307.0 602.7 376.0 602.7 384.6 620.7C376.0 638.7 307.0 638.7 298.4 620.7Z" fill="#660c94" stroke="#3c0a60" stroke-width="1"/>
<ellipse cx="341.5" cy="620.7" rx="23.7" ry="7.2" fill="none" stroke="#8a3cc0" stroke-width="1" stroke-opacity="0.8"/>
<ellipse cx="341.5" cy="620.7" rx="2.2" ry="1.6" fill="#e8e0f0"/>
<path d="M388.7 624.9C392.5 609.8 422.9 609.8 426.7 624.9C422.9 640.0 392.5 640.0 388.7 624.9Z" fill="#660c94" stroke="#3c0a60" stroke-width="1"/>
<ellipse cx="407.7" cy="624.9" rx="10.4" ry="6.0" fill="none" stroke="#8a3cc0" stroke-width="1" stroke-opacity="0.8"/>
<ellipse cx="407.7" cy="624.9" rx="2.2" ry="1.6" fill="#e8e0f0"/>
<path d="M423.7 639.0C428.0 623.9 462.0 623.9 466.3 639.0C462.0 654.1 428.0 654.1 423.7 639.0Z" fill="#660c94" stroke="#3c0a60" stroke-width="1"/>
<ellipse cx="445.0" cy="639.0" rx="11.7" ry="6.0" fill="none" stroke="#8a3cc0" stroke-width="1" stroke-opacity="0.8"/>
<ellipse cx="445.0" cy="639.0" rx="2.2" ry="1.6" fill="#e8e0f0"/>
<path d="M252.5 639.0C255.4 628.4 278.6 628.4 281.5 639.0C278.6 649.6 255.4 649.6 252.5 639.0Z" fill="#660c94" stroke="#3c0a60" stroke-width="1"/>
<ellipse cx="267.0" cy="639.0" rx="8.0" ry="4.2" fill="none" stroke="#8a3cc0" stroke-width="1" stroke-opacity="0.8"/>
<ellipse cx="267.0" cy="639.0" rx="2.2" ry="1.3" fill="#e8e0f0"/>
<path d="M283.2 651.8C289.9 633.8 343.3 633.8 350.0 651.8C343.3 669.8 289.9 669.8 283.2 651.8Z" fill="#660c94" stroke="#3c0a60" stroke-width="1"/>
<ellipse cx="316.6" cy="651.8" rx="18.3" ry="7.2" fill="none" stroke="#8a3cc0" stroke-width="1" stroke-opacity="0.8"/>
<ellipse cx="316.6" cy="651.8" rx="2.2" ry="1.6" fill="#e8e0f0"/>
<path d="M342.4 664.0C347.1 648.9 384.9 648.9 389.6 664.0C384.9 679.1 347.1 679.1 342.4 664.0Z" fill="#660c94" stroke="#3c0a60" stroke-width="1"/>
<ellipse cx="366.0" cy="664.0" rx="13.0" ry="6.0" fill="none" stroke="#8a3cc0" stroke-width="1" stroke-opacity="0.8"/>
<ellipse cx="366.0" cy="664.0" rx="2.2" ry="1.6" fill="#e8e0f0"/>
<path d="M404.4 656.0C409.1 640.9 446.9 640.9 451.6 656.0C446.9 671.1 409.1 671.1 404.4 656.0Z" fill="#660c94" stroke="#3c0a60" stroke-width="1"/>
<ellipse cx="428.0" cy="656.0" rx="13.0" ry="6.0" fill="none" stroke="#8a3cc0" stroke-width="1" stroke-opacity="0.8"/>
<ellipse cx="428.0" cy="656.0" rx="2.2" ry="1.6" fill="#e8e0f0"/>
<path d="M196.8 676.6C202.5 661.5 248.5 661.5 254.2 676.6C248.5 691.7 202.5 691.7 196.8 676.6Z" fill="#660c94" stroke="#3c0a60" stroke-width="1"/>
<ellipse cx="225.5" cy="676.6" rx="15.8" ry="6.0" fill="none" stroke="#8a3cc0" stroke-width="1" stroke-opacity="0.8"/>
<ellipse cx="225.5" cy="676.6" rx="2.2" ry="1.6" fill="#e8e0f0"/>
<path d="M253.7 683.0C258.0 665.0 292.0 665.0 296.3 683.0C292.0 701.0 258.0 701.0 253.7 683.0Z" fill="#660c94" stroke="#3c0a60" stroke-width="1"/>
<ellipse cx="275.0" cy="683.0" rx="11.7" ry="7.2" fill="none" stroke="#8a3cc0" stroke-width="1" stroke-opacity="0.8"/>
<ellipse cx="275.0" cy="683.0" rx="2.2" ry="1.6" fill="#e8e0f0"/>
<path d="M293.0 689.0C297.7 673.9 335.5 673.9 340.2 689.0C335.5 704.1 297.7 704.1 293.0 689.0Z" fill="#660c94" stroke="#3c0a60" stroke-width="1"/>
<ellipse cx="316.6" cy="689.0" rx="13.0" ry="6.0" fill="none" stroke="#8a3cc0" stroke-width="1" stroke-opacity="0.8"/>
<ellipse cx="316.6" cy="689.0" rx="2.2" ry="1.6" fill="#e8e0f0"/>
<path d="M380.8 693.0C387.0 675.0 436.6 675.0 442.9 693.0C436.6 711.0 387.0 711.0 380.8 693.0Z" fill="#660c94" stroke="#3c0a60" stroke-width="1"/>
<ellipse cx="411.8" cy="693.0" rx="17.1" ry="7.2" fill="none" stroke="#8a3cc0" stroke-width="1" stroke-opacity="0.8"/>
<ellipse cx="411.8" cy="693.0" rx="2.2" ry="1.6" fill="#e8e0f0"/>
<path d="M334.9 701.5C338.7 689.3 369.1 689.3 372.9 701.5C369.1 713.7 338.7 713.7 334.9 701.5Z" fill="#660c94" stroke="#3c0a60" stroke-width="1"/>
<ellipse cx="353.9" cy="701.5" rx="10.4" ry="4.9" fill="none" stroke="#8a3cc0" stroke-width="1" stroke-opacity="0.8"/>
<ellipse cx="353.9" cy="701.5" rx="2.2" ry="1.5" fill="#e8e0f0"/>
<path d="M221.3 718.0C224.7 700.0 251.3 700.0 254.7 718.0C251.3 736.0 224.7 736.0 221.3 718.0Z" fill="#660c94" stroke="#3c0a60" stroke-width="1"/>
<ellipse cx="238.0" cy="718.0" rx="9.2" ry="7.2" fill="none" stroke="#8a3cc0" stroke-width="1" stroke-opacity="0.8"/>
<ellipse cx="238.0" cy="718.0" rx="2.2" ry="1.6" fill="#e8e0f0"/>
<path d="M268.6 713.9C272.4 698.8 302.8 698.8 306.6 713.9C302.8 729.0 272.4 729.0 268.6 713.9Z" fill="#660c94" stroke="#3c0a60" stroke-width="1"/>
<ellipse cx="287.6" cy="713.9" rx="10.4" ry="6.0" fill="none" stroke="#8a3cc0" stroke-width="1" stroke-opacity="0.8"/>
<ellipse cx="287.6" cy="713.9" rx="2.2" ry="1.6" fill="#e8e0f0"/>
<path d="M347.2 713.9C354.3 695.9 411.3 695.9 418.4 713.9C411.3 731.9 354.3 731.9 347.2 713.9Z" fill="#660c94" stroke="#3c0a60" stroke-width="1"/>
<ellipse cx="382.8" cy="713.9" rx="19.6" ry="7.2" fill="none" stroke="#8a3cc0" stroke-width="1" stroke-opacity="0.8"/>
<ellipse cx="382.8" cy="713.9" rx="2.2" ry="1.6" fill="#e8e0f0"/>
<path d="M407.9 722.0C413.7 704.0 459.7 704.0 465.4 722.0C459.7 740.0 413.7 740.0 407.9 722.0Z" fill="#660c94" stroke="#3c0a60" stroke-width="1"/>
<ellipse cx="436.7" cy="722.0" rx="15.8" ry="7.2" fill="none" stroke="#8a3cc0" stroke-width="1" stroke-opacity="0.8"/>
<ellipse cx="436.7" cy="722.0" rx="2.2" ry="1.6" fill="#e8e0f0"/>
<path d="M220.7 742.8C225.0 727.7 259.0 727.7 263.3 742.8C259.0 757.9 225.0 757.9 220.7 742.8Z" fill="#660c94" stroke="#3c0a60" stroke-width="1"/>
<ellipse cx="242.0" cy="742.8" rx="11.7" ry="6.0" fill="none" stroke="#8a3cc0" stroke-width="1" stroke-opacity="0.8"/>
<ellipse cx="242.0" cy="742.8" rx="2.2" ry="1.6" fill="#e8e0f0"/>
<path d="M286.6 742.8C291.8 727.7 333.2 727.7 338.4 742.8C333.2 757.9 291.8 757.9 286.6 742.8Z" fill="#660c94" stroke="#3c0a60" stroke-width="1"/>
<ellipse cx="312.5" cy="742.8" rx="14.2" ry="6.0" fill="none" stroke="#8a3cc0" stroke-width="1" stroke-opacity="0.8"/>
<ellipse cx="312.5" cy="742.8" rx="2.2" ry="1.6" fill="#e8e0f0"/>
<path d="M322.0 747.0C326.7 731.9 364.5 731.9 369.2 747.0C364.5 762.1 326.7 762.1 322.0 747.0Z" fill="#660c94" stroke="#3c0a60" stroke-width="1"/>
<ellipse cx="345.6" cy="747.0" rx="13.0" ry="6.0" fill="none" stroke="#8a3cc0" stroke-width="1" stroke-opacity="0.8"/>
<ellipse cx="345.6" cy="747.0" rx="2.2" ry="1.6" fill="#e8e0f0"/>
<path d="M343.6 755.3C349.8 737.3 399.4 737.3 405.7 755.3C399.4 773.3 349.8 773.3 343.6 755.3Z" fill="#660c94" stroke="#3c0a60" stroke-width="1"/>
<ellipse cx="374.6" cy="755.3" rx="17.1" ry="7.2" fill="none" stroke="#8a3cc0" stroke-width="1" stroke-opacity="0.8"/>
<ellipse cx="374.6" cy="755.3" rx="2.2" ry="1.6" fill="#e8e0f0"/>
<path d="M400.4 732.5C405.1 720.3 442.9 720.3 447.6 732.5C442.9 744.7 405.1 744.7 400.4 732.5Z" fill="#660c94" stroke="#3c0a60" stroke-width="1"/>
<ellipse cx="424.0" cy="732.5" rx="13.0" ry="4.9" fill="none" stroke="#8a3cc0" stroke-width="1" stroke-opacity="0.8"/>
<ellipse cx="424.0" cy="732.5" rx="2.2" ry="1.5" fill="#e8e0f0"/>
<path d="M206.9 771.8C213.2 753.8 262.8 753.8 269.1 771.8C262.8 789.8 213.2 789.8 206.9 771.8Z" fill="#660c94" stroke="#3c0a60" stroke-width="1"/>
<ellipse cx="238.0" cy="771.8" rx="17.1" ry="7.2" fill="none" stroke="#8a3cc0" stroke-width="1" stroke-opacity="0.8"/>
<ellipse cx="238.0" cy="771.8" rx="2.2" ry="1.6" fill="#e8e0f0"/>
<path d="M268.6 771.8C272.4 756.7 302.8 756.7 306.6 771.8C302.8 786.9 272.4 786.9 268.6 771.8Z" fill="#660c94" stroke="#3c0a60" stroke-width="1"/>
<ellipse cx="287.6" cy="771.8" rx="10.4" ry="6.0" fill="none" stroke="#8a3cc0" stroke-width="1" stroke-opacity="0.8"/>
<ellipse cx="287.6" cy="771.8" rx="2.2" ry="1.6" fill="#e8e0f0"/>
<path d="M373.5 784.2C378.7 769.1 420.1 769.1 425.3 784.2C420.1 799.3 378.7 799.3 373.5 784.2Z" fill="#660c94" stroke="#3c0a60" stroke-width="1"/>
<ellipse cx="399.4" cy="784.2" rx="14.2" ry="6.0" fill="none" stroke="#8a3cc0" stroke-width="1" stroke-opacity="0.8"/>
<ellipse cx="399.4" cy="784.2" rx="2.2" ry="1.6" fill="#e8e0f0"/>
<path d="M408.9 780.0C413.6 764.9 451.4 764.9 456.1 780.0C451.4 795.1 413.6 795.1 408.9 780.0Z" fill="#660c94" stroke="#3c0a60" stroke-width="1"/>
<ellipse cx="432.5" cy="780.0" rx="13.0" ry="6.0" fill="none" stroke="#8a3cc0" stroke-width="1" stroke-opacity="0.8"/>
<ellipse cx="432.5" cy="780.0" rx="2.2" ry="1.6" fill="#e8e0f0"/>
<path d="M422.1 800.8C428.4 788.6 478.0 788.6 484.2 800.8C478.0 813.0 428.4 813.0 422.1 800.8Z" fill="#660c94" stroke="#3c0a60" stroke-width="1"/>
<ellipse cx="453.2" cy="800.8" rx="17.1" ry="4.9" fill="none" stroke="#8a3cc0" stroke-width="1" stroke-opacity="0.8"/>
<ellipse cx="453.2" cy="800.8" rx="2.2" ry="1.5" fill="#e8e0f0"/>
<path d="M339.5 776.0C342.4 763.8 365.4 763.8 368.3 776.0C365.4 788.2 342.4 788.2 339.5 776.0Z" fill="#660c94" stroke="#3c0a60" stroke-width="1"/>
<ellipse cx="353.9" cy="776.0" rx="7.9" ry="4.9" fill="none" stroke="#8a3cc0" stroke-width="1" stroke-opacity="0.8"/>
<ellipse cx="353.9" cy="776.0" rx="2.2" ry="1.5" fill="#e8e0f0"/>
<path d="M253.9 809.0C261.4 782.4 322.2 782.4 329.8 809.0C322.2 835.6 261.4 835.6 253.9 809.0Z" fill="#660c94" stroke="#3c0a60" stroke-width="1"/>
<ellipse cx="291.8" cy="809.0" rx="20.9" ry="10.6" fill="none" stroke="#8a3cc0" stroke-width="1" stroke-opacity="0.8"/>
<ellipse cx="291.8" cy="809.0" rx="2.2" ry="1.6" fill="#e8e0f0"/>
<path d="M243.8 821.5C247.6 803.5 278.0 803.5 281.8 821.5C278.0 839.5 247.6 839.5 243.8 821.5Z" fill="#660c94" stroke="#3c0a60" stroke-width="1"/>
<ellipse cx="262.8" cy="821.5" rx="10.4" ry="7.2" fill="none" stroke="#8a3cc0" stroke-width="1" stroke-opacity="0.8"/>
<ellipse cx="262.8" cy="821.5" rx="2.2" ry="1.6" fill="#e8e0f0"/>
<ellipse cx="333.0" cy="808.0" rx="5.0" ry="5.0" fill="#3a3ab0" stroke="#4caf30" stroke-width="1.6"/>
<path d="M323.2 813.2C331.8 789.5 400.8 789.5 409.4 813.2C400.8 836.9 331.8 836.9 323.2 813.2Z" fill="#660c94" stroke="#3c0a60" stroke-width="1"/>
<ellipse cx="366.3" cy="813.2" rx="23.7" ry="9.5" fill="none" stroke="#8a3cc0" stroke-width="1" stroke-opacity="0.8"/>
<ellipse cx="366.3" cy="813.2" rx="2.2" ry="1.6" fill="#e8e0f0"/>
<path d="M268.2 838.0C272.9 820.0 310.7 820.0 315.4 838.0C310.7 856.0 272.9 856.0 268.2 838.0Z" fill="#660c94" stroke="#3c0a60" stroke-width="1"/>
<ellipse cx="291.8" cy="838.0" rx="13.0" ry="7.2" fill="none" stroke="#8a3cc0" stroke-width="1" stroke-opacity="0.8"/>
<ellipse cx="291.8" cy="838.0" rx="2.2" ry="1.6" fill="#e8e0f0"/>
<path d="M310.5 838.0C315.0 822.4 351.0 822.4 355.5 838.0C351.0 853.6 315.0 853.6 310.5 838.0Z" fill="#660c94" stroke="#3c0a60" stroke-width="1"/>
<ellipse cx="333.0" cy="838.0" rx="12.4" ry="6.2" fill="none" stroke="#8a3cc0" stroke-width="1" stroke-opacity="0.8"/>
<ellipse cx="333.0" cy="838.0" rx="2.2" ry="1.6" fill="#e8e0f0"/>
<path d="M351.0 829.8C355.7 811.8 393.5 811.8 398.2 829.8C393.5 847.8 355.7 847.8 351.0 829.8Z" fill="#660c94" stroke="#3c0a60" stroke-width="1"/>
<ellipse cx="374.6" cy="829.8" rx="13.0" ry="7.2" fill="none" stroke="#8a3cc0" stroke-width="1" stroke-opacity="0.8"/>
<ellipse cx="374.6" cy="829.8" rx="2.2" ry="1.6" fill="#e8e0f0"/>
<path d="M272.8 858.8C276.6 846.6 307.0 846.6 310.8 858.8C307.0 871.0 276.6 871.0 272.8 858.8Z" fill="#660c94" stroke="#3c0a60" stroke-width="1"/>
<ellipse cx="291.8" cy="858.8" rx="10.4" ry="4.9" fill="none" stroke="#8a3cc0" stroke-width="1" stroke-opacity="0.8"/>
<ellipse cx="291.8" cy="858.8" rx="2.2" ry="1.5" fill="#e8e0f0"/>
<path d="M342.7 854.6C347.4 839.5 385.2 839.5 389.9 854.6C385.2 869.7 347.4 869.7 342.7 854.6Z" fill="#660c94" stroke="#3c0a60" stroke-width="1"/>
<ellipse cx="366.3" cy="854.6" rx="13.0" ry="6.0" fill="none" stroke="#8a3cc0" stroke-width="1" stroke-opacity="0.8"/>
<ellipse cx="366.3" cy="854.6" rx="2.2" ry="1.6" fill="#e8e0f0"/>
<path d="M372.0 867.0C375.8 854.8 406.2 854.8 410.0 867.0C406.2 879.2 375.8 879.2 372.0 867.0Z" fill="#660c94" stroke="#3c0a60" stroke-width="1"/>
<ellipse cx="391.0" cy="867.0" rx="10.4" ry="4.9" fill="none" stroke="#8a3cc0" stroke-width="1" stroke-opacity="0.8"/>
<ellipse cx="391.0" cy="867.0" rx="2.2" ry="1.5" fill="#e8e0f0"/>
<path d="M260.4 891.9C264.2 871.1 294.6 871.1 298.4 891.9C294.6 912.7 264.2 912.7 260.4 891.9Z" fill="#660c94" stroke="#3c0a60" stroke-width="1"/>
<ellipse cx="279.4" cy="891.9" rx="10.4" ry="8.3" fill="none" stroke="#8a3cc0" stroke-width="1" stroke-opacity="0.8"/>
<ellipse cx="279.4" cy="891.9" rx="2.2" ry="1.6" fill="#e8e0f0"/>
<path d="M324.3 883.6C328.6 865.6 362.6 865.6 366.9 883.6C362.6 901.6 328.6 901.6 324.3 883.6Z" fill="#660c94" stroke="#3c0a60" stroke-width="1"/>
<ellipse cx="345.6" cy="883.6" rx="11.7" ry="7.2" fill="none" stroke="#8a3cc0" stroke-width="1" stroke-opacity="0.8"/>
<ellipse cx="345.6" cy="883.6" rx="2.2" ry="1.6" fill="#e8e0f0"/>
<path d="M345.9 883.6C351.6 871.4 397.6 871.4 403.4 883.6C397.6 895.8 351.6 895.8 345.9 883.6Z" fill="#660c94" stroke="#3c0a60" stroke-width="1"/>
<ellipse cx="374.6" cy="883.6" rx="15.8" ry="4.9" fill="none" stroke="#8a3cc0" stroke-width="1" stroke-opacity="0.8"/>
<ellipse cx="374.6" cy="883.6" rx="2.2" ry="1.5" fill="#e8e0f0"/>
<path d="M251.6 916.7C256.3 898.7 294.1 898.7 298.8 916.7C294.1 934.7 256.3 934.7 251.6 916.7Z" fill="#660c94" stroke="#3c0a60" stroke-width="1"/>
<ellipse cx="275.2" cy="916.7" rx="13.0" ry="7.2" fill="none" stroke="#8a3cc0" stroke-width="1" stroke-opacity="0.8"/>
<ellipse cx="275.2" cy="916.7" rx="2.2" ry="1.6" fill="#e8e0f0"/>
<path d="M288.9 925.0C293.6 907.0 331.4 907.0 336.1 925.0C331.4 943.0 293.6 943.0 288.9 925.0Z" fill="#660c94" stroke="#3c0a60" stroke-width="1"/>
<ellipse cx="312.5" cy="925.0" rx="13.0" ry="7.2" fill="none" stroke="#8a3cc0" stroke-width="1" stroke-opacity="0.8"/>
<ellipse cx="312.5" cy="925.0" rx="2.2" ry="1.6" fill="#e8e0f0"/>
<path d="M326.4 920.9C333.5 900.1 390.5 900.1 397.6 920.9C390.5 941.7 333.5 941.7 326.4 920.9Z" fill="#660c94" stroke="#3c0a60" stroke-width="1"/>
<ellipse cx="362.0" cy="920.9" rx="19.6" ry="8.3" fill="none" stroke="#8a3cc0" stroke-width="1" stroke-opacity="0.8"/>
<ellipse cx="362.0" cy="920.9" rx="2.2" ry="1.6" fill="#e8e0f0"/>
<path d="M317.9 941.6C322.6 923.6 360.4 923.6 365.1 941.6C360.4 959.6 322.6 959.6 317.9 941.6Z" fill="#660c94" stroke="#3c0a60" stroke-width="1"/>
<ellipse cx="341.5" cy="941.6" rx="13.0" ry="7.2" fill="none" stroke="#8a3cc0" stroke-width="1" stroke-opacity="0.8"/>
<ellipse cx="341.5" cy="941.6" rx="2.2" ry="1.6" fill="#e8e0f0"/>
<ellipse cx="411.8" cy="800.8" rx="3.0" ry="2.0" fill="none" stroke="#660c94" stroke-width="2"/>
<ellipse cx="418.0" cy="829.8" rx="4.0" ry="2.0" fill="none" stroke="#660c94" stroke-width="2"/>
<path d="M399.5 355.5C402.0 342.4 422.0 342.4 424.5 355.5C422.0 368.6 402.0 368.6 399.5 355.5Z" fill="#d41e1e" stroke="#a01010" stroke-width="1"/>
<ellipse cx="412.0" cy="355.5" rx="5.6" ry="4.2" fill="#b01830"/>
<path d="M374.5 433.8C377.0 423.1 397.0 423.1 399.5 433.8C397.0 444.4 377.0 444.4 374.5 433.8Z" fill="#d41e1e" stroke="#a01010" stroke-width="1"/>
<ellipse cx="387.0" cy="433.8" rx="5.6" ry="3.4" fill="#b01830"/>
<path d="M249.5 451.0C252.2 440.4 273.8 440.4 276.5 451.0C273.8 461.6 252.2 461.6 249.5 451.0Z" fill="#d41e1e"/>
<path d="M251.5 452.5C253.8 444.0 272.2 444.0 274.5 452.5C272.2 461.0 253.8 461.0 251.5 452.5Z" fill="#f0a020"/>
<path d="M253.6 453.5C255.4 446.9 270.6 446.9 272.4 453.5C270.6 460.1 255.4 460.1 253.6 453.5Z" fill="#660c94"/>
<path d="M256.5 876.0C259.2 865.4 280.8 865.4 283.5 876.0C280.8 886.6 259.2 886.6 256.5 876.0Z" fill="#d41e1e" stroke="#a01010" stroke-width="1"/>
<ellipse cx="270.0" cy="876.0" rx="6.1" ry="3.4" fill="#b01830"/>
</g><clipPath id="clipB"><rect x="814.3" y="50.7" width="540.0" height="939.3"/></clipPath>
<g clip-path="url(#clipB)">
<path d="M994.0 852.0C1002.3 848.7 1035.3 847.0 1044.0 850.0C1052.7 853.0 1047.5 864.7 1046.0 870.0C1044.5 875.3 1035.2 877.8 1035.0 882.0C1034.8 886.2 1042.8 889.5 1045.0 895.0C1047.2 900.5 1048.8 908.3 1048.0 915.0C1047.2 921.7 1044.7 931.2 1040.0 935.0C1035.3 938.8 1027.5 938.0 1020.0 938.0C1012.5 938.0 1000.3 938.0 995.0 935.0C989.7 932.0 988.5 925.8 988.0 920.0C987.5 914.2 991.7 906.0 992.0 900.0C992.3 894.0 989.7 889.0 990.0 884.0C990.3 879.0 993.3 875.3 994.0 870.0C994.7 864.7 985.7 855.3 994.0 852.0Z" fill="#3a1ae0" fill-opacity="0.62" stroke="#3a1ae0" stroke-opacity="0.77" stroke-width="2"/>
<path d="M1082.0 845.0C1091.0 842.2 1128.5 843.8 1139.0 848.0C1149.5 852.2 1144.8 863.0 1145.0 870.0C1145.2 877.0 1144.2 885.8 1140.0 890.0C1135.8 894.2 1127.5 896.7 1120.0 895.0C1112.5 893.3 1100.8 885.0 1095.0 880.0C1089.2 875.0 1087.2 870.8 1085.0 865.0C1082.8 859.2 1073.0 847.8 1082.0 845.0Z" fill="#3a1ae0" fill-opacity="0.62" stroke="#3a1ae0" stroke-opacity="0.77" stroke-width="2"/>
<path d="M1062.0 870.0C1066.7 867.2 1083.0 863.0 1088.0 868.0C1093.0 873.0 1088.3 893.8 1092.0 900.0C1095.7 906.2 1103.5 903.0 1110.0 905.0C1116.5 907.0 1127.7 907.0 1131.0 912.0C1134.3 917.0 1134.3 929.5 1130.0 935.0C1125.7 940.5 1110.8 940.8 1105.0 945.0C1099.2 949.2 1100.8 956.7 1095.0 960.0C1089.2 963.3 1077.8 965.0 1070.0 965.0C1062.2 965.0 1054.7 962.5 1048.0 960.0C1041.3 957.5 1034.0 955.0 1030.0 950.0C1026.0 945.0 1022.3 935.8 1024.0 930.0C1025.7 924.2 1034.0 919.2 1040.0 915.0C1046.0 910.8 1056.7 910.0 1060.0 905.0C1063.3 900.0 1059.7 890.8 1060.0 885.0C1060.3 879.2 1057.3 872.8 1062.0 870.0Z" fill="#3a1ae0" fill-opacity="0.62" stroke="#3a1ae0" stroke-opacity="0.77" stroke-width="2"/>
<path d="M1050.0 360.0C1053.8 355.8 1062.9 348.3 1070.0 345.0C1077.1 341.7 1084.2 339.6 1092.5 340.0C1100.8 340.4 1113.8 345.8 1120.0 347.5C1126.2 349.2 1126.7 347.1 1130.0 350.0C1133.3 352.9 1135.8 360.8 1140.0 365.0C1144.2 369.2 1150.4 372.9 1155.0 375.0C1159.6 377.1 1165.0 375.0 1167.5 377.5C1170.0 380.0 1171.2 386.7 1170.0 390.0C1168.8 393.3 1164.2 396.7 1160.0 397.5C1155.8 398.3 1149.2 396.7 1145.0 395.0C1140.8 393.3 1141.7 388.8 1135.0 387.5C1128.3 386.2 1114.2 387.9 1105.0 387.5C1095.8 387.1 1088.3 386.7 1080.0 385.0C1071.7 383.3 1060.4 380.0 1055.0 377.5C1049.6 375.0 1048.3 372.9 1047.5 370.0C1046.7 367.1 1046.2 364.2 1050.0 360.0Z" fill="#3a1ae0" fill-opacity="0.62" stroke="#3a1ae0" stroke-opacity="0.77" stroke-width="2"/>
<path d="M1025.0 430.0C1031.2 425.4 1045.8 426.7 1055.0 427.5C1064.2 428.3 1071.7 434.6 1080.0 435.0C1088.3 435.4 1096.7 430.0 1105.0 430.0C1113.3 430.0 1122.1 432.1 1130.0 435.0C1137.9 437.9 1148.3 443.8 1152.5 447.5C1156.7 451.2 1158.8 454.6 1155.0 457.5C1151.2 460.4 1136.7 462.1 1130.0 465.0C1123.3 467.9 1117.1 470.8 1115.0 475.0C1112.9 479.2 1119.2 486.7 1117.5 490.0C1115.8 493.3 1108.3 495.8 1105.0 495.0C1101.7 494.2 1101.7 488.3 1097.5 485.0C1093.3 481.7 1087.1 476.7 1080.0 475.0C1072.9 473.3 1065.0 475.0 1055.0 475.0C1045.0 475.0 1026.2 478.3 1020.0 475.0C1013.8 471.7 1016.7 462.5 1017.5 455.0C1018.3 447.5 1018.8 434.6 1025.0 430.0Z" fill="#3a1ae0" fill-opacity="0.62" stroke="#3a1ae0" stroke-opacity="0.77" stroke-width="2"/>
<path d="M1020.0 482.5C1026.7 479.2 1042.9 477.9 1055.0 477.5C1067.1 477.1 1085.4 477.1 1092.5 480.0C1099.6 482.9 1098.3 490.8 1097.5 495.0C1096.7 499.2 1089.2 501.2 1087.5 505.0C1085.8 508.8 1089.6 513.3 1087.5 517.5C1085.4 521.7 1075.4 525.4 1075.0 530.0C1074.6 534.6 1081.7 539.2 1085.0 545.0C1088.3 550.8 1104.2 561.7 1095.0 565.0C1085.8 568.3 1042.5 569.2 1030.0 565.0C1017.5 560.8 1032.5 545.4 1020.0 540.0C1007.5 534.6 966.7 536.2 955.0 532.5C943.3 528.8 945.8 522.9 950.0 517.5C954.2 512.1 969.2 503.3 980.0 500.0C990.8 496.7 1008.3 500.4 1015.0 497.5C1021.7 494.6 1013.3 485.8 1020.0 482.5Z" fill="#3a1ae0" fill-opacity="0.62" stroke="#3a1ae0" stroke-opacity="0.77" stroke-width="2"/>
<path d="M1036.6 540.0C1047.6 535.9 1084.9 535.9 1094.6 540.0C1104.3 544.1 1099.4 558.6 1094.6 564.8C1089.8 571.0 1064.9 574.5 1065.6 577.3C1066.3 580.1 1087.7 575.2 1098.7 581.4C1109.7 587.6 1122.1 607.6 1131.8 614.5C1141.5 621.4 1147.0 619.3 1156.7 622.8C1166.4 626.2 1182.9 630.4 1189.8 635.2C1196.7 640.0 1202.1 647.0 1198.0 651.8C1193.9 656.6 1171.9 659.4 1165.0 664.2C1158.1 669.0 1154.0 676.7 1156.7 680.8C1159.5 684.9 1176.0 683.5 1181.5 689.0C1187.0 694.5 1187.0 708.4 1189.8 713.9C1192.5 719.4 1198.0 717.9 1198.0 722.0C1198.0 726.1 1196.7 733.9 1189.8 738.7C1182.9 743.6 1163.6 745.6 1156.7 751.1C1149.8 756.6 1142.9 767.6 1148.4 771.8C1153.9 775.9 1178.1 773.2 1189.8 776.0C1201.5 778.8 1214.7 783.6 1218.8 788.4C1222.9 793.2 1220.8 801.6 1214.6 805.0C1208.4 808.4 1192.5 804.9 1181.5 809.0C1170.5 813.1 1155.3 823.0 1148.4 829.8C1141.5 836.6 1148.1 845.5 1140.0 850.0C1131.9 854.5 1113.3 855.7 1100.0 857.0C1086.7 858.3 1073.3 859.5 1060.0 858.0C1046.7 856.5 1031.7 850.0 1020.0 848.0C1008.3 846.0 996.9 847.0 990.0 846.0C983.1 845.0 982.7 846.3 978.7 842.2C974.7 838.1 969.7 829.1 966.2 821.5C962.8 813.9 961.5 802.2 958.0 796.7C954.5 791.2 948.3 792.5 945.5 788.4C942.7 784.2 940.7 777.3 941.4 771.8C942.1 766.3 949.0 761.5 949.7 755.3C950.4 749.1 944.8 741.5 945.5 734.6C946.2 727.7 955.2 722.2 953.8 713.9C952.4 705.6 940.8 691.8 937.3 684.9C933.8 678.0 928.3 676.0 933.1 672.5C937.9 669.0 956.6 668.4 966.2 664.2C975.9 660.1 988.2 651.7 991.0 647.6C993.8 643.5 982.1 643.5 982.8 639.4C983.5 635.3 992.4 627.6 995.2 622.8C998.0 618.0 994.6 615.2 999.4 610.4C1004.2 605.6 1016.6 598.6 1024.2 593.8C1031.8 589.0 1044.2 586.2 1044.9 581.4C1045.6 576.6 1029.7 571.7 1028.3 564.8C1026.9 557.9 1025.5 544.1 1036.6 540.0Z" fill="#3a1ae0" fill-opacity="0.62" stroke="#3a1ae0" stroke-opacity="0.77" stroke-width="2"/>
<ellipse cx="1050" cy="790" rx="35.0" ry="8.0" fill="#fff" fill-opacity="0.85"/>
<ellipse cx="1090" cy="790" rx="18.0" ry="6.0" fill="#fff" fill-opacity="0.85"/>
<ellipse cx="1045" cy="850" rx="20.0" ry="5.0" fill="#fff" fill-opacity="0.85"/>
<path d="M955.0 81.7C958.1 72.6 982.5 72.6 985.6 81.7C982.5 90.8 958.1 90.8 955.0 81.7Z" fill="#1614ee" stroke="#e0401e" stroke-width="1.1"/>
<ellipse cx="970.3" cy="81.7" rx="8.0" ry="3.2" fill="none" stroke="#6060ff" stroke-width="1" stroke-opacity="0.8"/>
<ellipse cx="970.3" cy="81.7" rx="2.2" ry="1.0" fill="#e8e0f0"/>
<path d="M1003.2 65.5C1005.7 59.5 1025.3 59.5 1027.8 65.5C1025.3 71.5 1005.7 71.5 1003.2 65.5Z" fill="#1614ee" stroke="#e0401e" stroke-width="1.1"/>
<path d="M993.1 77.0C997.2 66.0 1029.6 66.0 1033.7 77.0C1029.6 88.0 997.2 88.0 993.1 77.0Z" fill="#1614ee" stroke="#e0401e" stroke-width="1.1"/>
<ellipse cx="1013.4" cy="77.0" rx="10.7" ry="4.0" fill="none" stroke="#6060ff" stroke-width="1" stroke-opacity="0.8"/>
<ellipse cx="1013.4" cy="77.0" rx="2.2" ry="1.2" fill="#e8e0f0"/>
<ellipse cx="1070.5" cy="65.5" rx="8.5" ry="3.0" fill="#1614ee" stroke="#e0401e" stroke-width="1.8"/>
<path d="M1049.1 77.0C1053.5 66.3 1088.3 66.3 1092.7 77.0C1088.3 87.7 1053.5 87.7 1049.1 77.0Z" fill="#1614ee" stroke="#e0401e" stroke-width="1.1"/>
<ellipse cx="1070.9" cy="77.0" rx="11.6" ry="3.9" fill="none" stroke="#6060ff" stroke-width="1" stroke-opacity="0.8"/>
<ellipse cx="1070.9" cy="77.0" rx="2.2" ry="1.2" fill="#e8e0f0"/>
<ellipse cx="918.0" cy="142.0" rx="4.0" ry="2.0" fill="#1614ee" stroke="#e0401e" stroke-width="1.8"/>
<ellipse cx="925.0" cy="162.0" rx="3.0" ry="1.5" fill="none" stroke="#1614ee" stroke-width="2"/>
<path d="M905.7 153.0C909.4 141.4 938.6 141.4 942.3 153.0C938.6 164.6 909.4 164.6 905.7 153.0Z" fill="#1614ee" stroke="#e0401e" stroke-width="1.1"/>
<ellipse cx="924.0" cy="153.0" rx="9.6" ry="4.2" fill="none" stroke="#6060ff" stroke-width="1" stroke-opacity="0.8"/>
<ellipse cx="924.0" cy="153.0" rx="2.2" ry="1.3" fill="#e8e0f0"/>
<ellipse cx="1020.0" cy="134.0" rx="7.0" ry="2.0" fill="#1614ee" stroke="#e0401e" stroke-width="1.8"/>
<path d="M1001.5 143.4C1004.9 127.0 1031.7 127.0 1035.1 143.4C1031.7 159.8 1004.9 159.8 1001.5 143.4Z" fill="#1614ee" stroke="#e0401e" stroke-width="1.1"/>
<ellipse cx="1018.3" cy="143.4" rx="8.8" ry="6.2" fill="none" stroke="#6060ff" stroke-width="1" stroke-opacity="0.8"/>
<ellipse cx="1018.3" cy="143.4" rx="2.2" ry="1.6" fill="#e8e0f0"/>
<ellipse cx="958.0" cy="258.0" rx="5.0" ry="2.0" fill="#1614ee" stroke="#e0401e" stroke-width="1.8"/>
<path d="M940.2 268.0C943.9 253.2 973.1 253.2 976.8 268.0C973.1 282.8 943.9 282.8 940.2 268.0Z" fill="#1614ee" stroke="#e0401e" stroke-width="1.1"/>
<ellipse cx="958.5" cy="268.0" rx="9.6" ry="5.5" fill="none" stroke="#6060ff" stroke-width="1" stroke-opacity="0.8"/>
<ellipse cx="958.5" cy="268.0" rx="2.2" ry="1.6" fill="#e8e0f0"/>
<ellipse cx="1154.0" cy="268.0" rx="6.0" ry="3.0" fill="#1614ee" stroke="#e0401e" stroke-width="1.8"/>
<path d="M1265.3 297.2C1266.6 291.2 1276.6 291.2 1277.9 297.2C1276.6 303.2 1266.6 303.2 1265.3 297.2Z" fill="#1614ee" stroke="#e0401e" stroke-width="1.1"/>
<path d="M1293.4 316.2C1294.5 312.1 1302.9 312.1 1304.0 316.2C1302.9 320.3 1294.5 320.3 1293.4 316.2Z" fill="#1614ee" stroke="#e0401e" stroke-width="1.1"/>
<ellipse cx="1348.0" cy="267.0" rx="14.0" ry="4.0" fill="none" stroke="#e0401e" stroke-width="1.6"/>
<path d="M1137.3 324.3C1140.4 312.1 1164.8 312.1 1167.9 324.3C1164.8 336.6 1140.4 336.6 1137.3 324.3Z" fill="#1614ee" stroke="#e0401e" stroke-width="1.1"/>
<ellipse cx="1152.6" cy="324.3" rx="8.0" ry="4.5" fill="none" stroke="#6060ff" stroke-width="1" stroke-opacity="0.8"/>
<ellipse cx="1152.6" cy="324.3" rx="2.2" ry="1.3" fill="#e8e0f0"/>
<path d="M1203.5 325.2C1204.8 319.2 1214.8 319.2 1216.1 325.2C1214.8 331.2 1204.8 331.2 1203.5 325.2Z" fill="#1614ee" stroke="#e0401e" stroke-width="1.1"/>
<path d="M1128.6 359.0C1132.8 345.4 1166.4 345.4 1170.6 359.0C1166.4 372.6 1132.8 372.6 1128.6 359.0Z" fill="#1614ee" stroke="#e0401e" stroke-width="1.1"/>
<ellipse cx="1149.6" cy="359.0" rx="11.1" ry="5.0" fill="none" stroke="#6060ff" stroke-width="1" stroke-opacity="0.8"/>
<ellipse cx="1149.6" cy="359.0" rx="2.2" ry="1.5" fill="#e8e0f0"/>
<path d="M1158.7 362.0C1162.9 344.2 1196.5 344.2 1200.7 362.0C1196.5 379.8 1162.9 379.8 1158.7 362.0Z" fill="#1614ee" stroke="#e0401e" stroke-width="1.1"/>
<ellipse cx="1179.7" cy="362.0" rx="11.1" ry="6.7" fill="none" stroke="#6060ff" stroke-width="1" stroke-opacity="0.8"/>
<ellipse cx="1179.7" cy="362.0" rx="2.2" ry="1.6" fill="#e8e0f0"/>
<path d="M1148.8 376.1C1150.8 368.2 1166.4 368.2 1168.4 376.1C1166.4 384.0 1150.8 384.0 1148.8 376.1Z" fill="#1614ee" stroke="#e0401e" stroke-width="1.1"/>
<ellipse cx="1158.6" cy="376.1" rx="5.0" ry="2.8" fill="none" stroke="#6060ff" stroke-width="1" stroke-opacity="0.8"/>
<ellipse cx="1158.6" cy="376.1" rx="1.3" ry="0.8" fill="#e8e0f0"/>
<path d="M1133.5 387.6C1137.3 372.9 1167.9 372.9 1171.7 387.6C1167.9 402.3 1137.3 402.3 1133.5 387.6Z" fill="#1614ee" stroke="#e0401e" stroke-width="1.1"/>
<ellipse cx="1152.6" cy="387.6" rx="10.1" ry="5.5" fill="none" stroke="#6060ff" stroke-width="1" stroke-opacity="0.8"/>
<ellipse cx="1152.6" cy="387.6" rx="2.2" ry="1.6" fill="#e8e0f0"/>
<path d="M1200.7 402.7C1203.6 390.4 1226.4 390.4 1229.3 402.7C1226.4 414.9 1203.6 414.9 1200.7 402.7Z" fill="#1614ee" stroke="#e0401e" stroke-width="1.1"/>
<ellipse cx="1215.0" cy="402.7" rx="7.4" ry="4.5" fill="none" stroke="#6060ff" stroke-width="1" stroke-opacity="0.8"/>
<ellipse cx="1215.0" cy="402.7" rx="2.0" ry="1.3" fill="#e8e0f0"/>
<path d="M1198.5 423.7C1201.7 411.4 1226.9 411.4 1230.1 423.7C1226.9 435.9 1201.7 435.9 1198.5 423.7Z" fill="#1614ee" stroke="#e0401e" stroke-width="1.1"/>
<ellipse cx="1214.3" cy="423.7" rx="8.2" ry="4.5" fill="none" stroke="#6060ff" stroke-width="1" stroke-opacity="0.8"/>
<ellipse cx="1214.3" cy="423.7" rx="2.2" ry="1.3" fill="#e8e0f0"/>
<ellipse cx="1179.7" cy="448.4" rx="6.0" ry="3.0" fill="none" stroke="#1614ee" stroke-width="2"/>
<path d="M1166.6 471.0C1170.1 458.1 1198.3 458.1 1201.8 471.0C1198.3 483.9 1170.1 483.9 1166.6 471.0Z" fill="#1614ee" stroke="#e0401e" stroke-width="1.1"/>
<ellipse cx="1184.2" cy="471.0" rx="9.2" ry="4.8" fill="none" stroke="#6060ff" stroke-width="1" stroke-opacity="0.8"/>
<ellipse cx="1184.2" cy="471.0" rx="2.2" ry="1.4" fill="#e8e0f0"/>
<path d="M1198.4 469.8C1200.3 463.2 1215.1 463.2 1217.0 469.8C1215.1 476.4 1200.3 476.4 1198.4 469.8Z" fill="#1614ee" stroke="#e0401e" stroke-width="1.1"/>
<ellipse cx="1207.7" cy="469.8" rx="4.7" ry="2.2" fill="none" stroke="#6060ff" stroke-width="1" stroke-opacity="0.8"/>
<ellipse cx="1207.7" cy="469.8" rx="1.3" ry="0.7" fill="#e8e0f0"/>
<path d="M1124.0 455.4C1127.0 447.9 1151.0 447.9 1154.0 455.4C1151.0 462.9 1127.0 462.9 1124.0 455.4Z" fill="#1614ee" fill-opacity="0.6"/>
<path d="M1146.3 494.5C1147.6 488.5 1157.6 488.5 1158.9 494.5C1157.6 500.5 1147.6 500.5 1146.3 494.5Z" fill="#1614ee" stroke="#e0401e" stroke-width="1.1"/>
<path d="M1156.3 504.2C1158.0 497.6 1171.2 497.6 1172.9 504.2C1171.2 510.8 1158.0 510.8 1156.3 504.2Z" fill="#1614ee" stroke="#e0401e" stroke-width="1.1"/>
<ellipse cx="1164.6" cy="504.2" rx="4.1" ry="2.2" fill="none" stroke="#6060ff" stroke-width="1" stroke-opacity="0.8"/>
<ellipse cx="1164.6" cy="504.2" rx="1.1" ry="0.7" fill="#e8e0f0"/>
<path d="M1118.4 509.6C1121.9 496.0 1150.1 496.0 1153.6 509.6C1150.1 523.2 1121.9 523.2 1118.4 509.6Z" fill="#1614ee" stroke="#e0401e" stroke-width="1.1"/>
<ellipse cx="1136.0" cy="509.6" rx="9.2" ry="5.0" fill="none" stroke="#6060ff" stroke-width="1" stroke-opacity="0.8"/>
<ellipse cx="1136.0" cy="509.6" rx="2.2" ry="1.5" fill="#e8e0f0"/>
<path d="M1124.4 538.2C1127.9 526.7 1156.1 526.7 1159.6 538.2C1156.1 549.7 1127.9 549.7 1124.4 538.2Z" fill="#1614ee" stroke="#e0401e" stroke-width="1.1"/>
<ellipse cx="1142.0" cy="538.2" rx="9.2" ry="4.2" fill="none" stroke="#6060ff" stroke-width="1" stroke-opacity="0.8"/>
<ellipse cx="1142.0" cy="538.2" rx="2.2" ry="1.3" fill="#e8e0f0"/>
<path d="M1069.7 351.2C1073.7 335.0 1106.3 335.0 1110.3 351.2C1106.3 367.5 1073.7 367.5 1069.7 351.2Z" fill="#1614ee" stroke="#e0401e" stroke-width="1.1"/>
<ellipse cx="1090.0" cy="351.2" rx="10.7" ry="6.1" fill="none" stroke="#6060ff" stroke-width="1" stroke-opacity="0.8"/>
<ellipse cx="1090.0" cy="351.2" rx="2.2" ry="1.6" fill="#e8e0f0"/>
<path d="M1046.8 370.0C1052.4 353.8 1097.6 353.8 1103.2 370.0C1097.6 386.2 1052.4 386.2 1046.8 370.0Z" fill="#1614ee" stroke="#e0401e" stroke-width="1.1"/>
<ellipse cx="1075.0" cy="370.0" rx="15.1" ry="6.1" fill="none" stroke="#6060ff" stroke-width="1" stroke-opacity="0.8"/>
<ellipse cx="1075.0" cy="370.0" rx="2.2" ry="1.6" fill="#e8e0f0"/>
<path d="M1089.0 367.5C1092.2 355.1 1117.8 355.1 1121.0 367.5C1117.8 379.9 1092.2 379.9 1089.0 367.5Z" fill="#1614ee" stroke="#e0401e" stroke-width="1.1"/>
<ellipse cx="1105.0" cy="367.5" rx="8.4" ry="4.6" fill="none" stroke="#6060ff" stroke-width="1" stroke-opacity="0.8"/>
<ellipse cx="1105.0" cy="367.5" rx="2.2" ry="1.4" fill="#e8e0f0"/>
<path d="M1099.7 382.5C1103.7 370.1 1136.3 370.1 1140.3 382.5C1136.3 394.9 1103.7 394.9 1099.7 382.5Z" fill="#1614ee" stroke="#e0401e" stroke-width="1.1"/>
<ellipse cx="1120.0" cy="382.5" rx="10.7" ry="4.6" fill="none" stroke="#6060ff" stroke-width="1" stroke-opacity="0.8"/>
<ellipse cx="1120.0" cy="382.5" rx="2.2" ry="1.4" fill="#e8e0f0"/>
<path d="M999.2 396.2C1001.4 389.6 1018.6 389.6 1020.8 396.2C1018.6 402.9 1001.4 402.9 999.2 396.2Z" fill="#1614ee" stroke="#e0401e" stroke-width="1.1"/>
<ellipse cx="1010.0" cy="396.2" rx="5.5" ry="2.2" fill="none" stroke="#6060ff" stroke-width="1" stroke-opacity="0.8"/>
<ellipse cx="1010.0" cy="396.2" rx="1.5" ry="0.7" fill="#e8e0f0"/>
<path d="M992.8 412.5C996.0 397.5 1021.5 397.5 1024.7 412.5C1021.5 427.5 996.0 427.5 992.8 412.5Z" fill="#1614ee" stroke="#e0401e" stroke-width="1.1"/>
<ellipse cx="1008.8" cy="412.5" rx="8.3" ry="5.6" fill="none" stroke="#6060ff" stroke-width="1" stroke-opacity="0.8"/>
<ellipse cx="1008.8" cy="412.5" rx="2.2" ry="1.6" fill="#e8e0f0"/>
<path d="M1033.8 413.8C1037.5 400.9 1067.5 400.9 1071.2 413.8C1067.5 426.6 1037.5 426.6 1033.8 413.8Z" fill="#1614ee" stroke="#e0401e" stroke-width="1.1"/>
<ellipse cx="1052.5" cy="413.8" rx="9.9" ry="4.8" fill="none" stroke="#6060ff" stroke-width="1" stroke-opacity="0.8"/>
<ellipse cx="1052.5" cy="413.8" rx="2.2" ry="1.4" fill="#e8e0f0"/>
<path d="M1070.7 420.0C1075.5 403.6 1114.5 403.6 1119.3 420.0C1114.5 436.4 1075.5 436.4 1070.7 420.0Z" fill="#1614ee" stroke="#e0401e" stroke-width="1.1"/>
<ellipse cx="1095.0" cy="420.0" rx="12.9" ry="6.2" fill="none" stroke="#6060ff" stroke-width="1" stroke-opacity="0.8"/>
<ellipse cx="1095.0" cy="420.0" rx="2.2" ry="1.6" fill="#e8e0f0"/>
<path d="M1115.4 411.0C1120.8 396.0 1163.2 396.0 1168.6 411.0C1163.2 426.0 1120.8 426.0 1115.4 411.0Z" fill="#1614ee" stroke="#e0401e" stroke-width="1.1"/>
<ellipse cx="1142.0" cy="411.0" rx="14.2" ry="5.6" fill="none" stroke="#6060ff" stroke-width="1" stroke-opacity="0.8"/>
<ellipse cx="1142.0" cy="411.0" rx="2.2" ry="1.6" fill="#e8e0f0"/>
<path d="M1106.5 436.2C1109.7 422.3 1135.3 422.3 1138.5 436.2C1135.3 450.2 1109.7 450.2 1106.5 436.2Z" fill="#1614ee" stroke="#e0401e" stroke-width="1.1"/>
<ellipse cx="1122.5" cy="436.2" rx="8.4" ry="5.2" fill="none" stroke="#6060ff" stroke-width="1" stroke-opacity="0.8"/>
<ellipse cx="1122.5" cy="436.2" rx="2.2" ry="1.6" fill="#e8e0f0"/>
<path d="M979.9 455.0C983.4 440.0 1011.6 440.0 1015.1 455.0C1011.6 470.0 983.4 470.0 979.9 455.0Z" fill="#1614ee" stroke="#e0401e" stroke-width="1.1"/>
<ellipse cx="997.5" cy="455.0" rx="9.2" ry="5.6" fill="none" stroke="#6060ff" stroke-width="1" stroke-opacity="0.8"/>
<ellipse cx="997.5" cy="455.0" rx="2.2" ry="1.6" fill="#e8e0f0"/>
<path d="M1016.4 445.0C1024.1 423.4 1085.9 423.4 1093.6 445.0C1085.9 466.6 1024.1 466.6 1016.4 445.0Z" fill="#1614ee" stroke="#e0401e" stroke-width="1.1"/>
<ellipse cx="1055.0" cy="445.0" rx="20.8" ry="8.2" fill="none" stroke="#6060ff" stroke-width="1" stroke-opacity="0.8"/>
<ellipse cx="1055.0" cy="445.0" rx="2.2" ry="1.6" fill="#e8e0f0"/>
<path d="M1013.6 467.5C1018.9 453.5 1061.1 453.5 1066.4 467.5C1061.1 481.5 1018.9 481.5 1013.6 467.5Z" fill="#1614ee" stroke="#e0401e" stroke-width="1.1"/>
<ellipse cx="1040.0" cy="467.5" rx="14.1" ry="5.2" fill="none" stroke="#6060ff" stroke-width="1" stroke-opacity="0.8"/>
<ellipse cx="1040.0" cy="467.5" rx="2.2" ry="1.6" fill="#e8e0f0"/>
<path d="M1056.6 460.0C1061.3 446.0 1098.7 446.0 1103.4 460.0C1098.7 474.0 1061.3 474.0 1056.6 460.0Z" fill="#1614ee" stroke="#e0401e" stroke-width="1.1"/>
<ellipse cx="1080.0" cy="460.0" rx="12.4" ry="5.2" fill="none" stroke="#6060ff" stroke-width="1" stroke-opacity="0.8"/>
<ellipse cx="1080.0" cy="460.0" rx="2.2" ry="1.6" fill="#e8e0f0"/>
<path d="M1097.5 455.0C1103.0 442.5 1147.0 442.5 1152.5 455.0C1147.0 467.5 1103.0 467.5 1097.5 455.0Z" fill="#1614ee" fill-opacity="0.6"/>
<path d="M1100.0 475.0C1101.5 459.4 1113.5 459.4 1115.0 475.0C1113.5 490.6 1101.5 490.6 1100.0 475.0Z" fill="#1614ee" fill-opacity="0.6"/>
<path d="M1013.5 490.0C1022.8 469.9 1097.2 469.9 1106.5 490.0C1097.2 510.1 1022.8 510.1 1013.5 490.0Z" fill="#1614ee" stroke="#e0401e" stroke-width="1.1"/>
<ellipse cx="1060.0" cy="490.0" rx="25.2" ry="7.6" fill="none" stroke="#6060ff" stroke-width="1" stroke-opacity="0.8"/>
<ellipse cx="1060.0" cy="490.0" rx="2.2" ry="1.6" fill="#e8e0f0"/>
<path d="M969.8 507.5C974.8 491.2 1015.2 491.2 1020.2 507.5C1015.2 523.8 974.8 523.8 969.8 507.5Z" fill="#1614ee" stroke="#e0401e" stroke-width="1.1"/>
<ellipse cx="995.0" cy="507.5" rx="13.4" ry="6.1" fill="none" stroke="#6060ff" stroke-width="1" stroke-opacity="0.8"/>
<ellipse cx="995.0" cy="507.5" rx="2.2" ry="1.6" fill="#e8e0f0"/>
<path d="M1018.7 510.0C1025.0 493.8 1075.0 493.8 1081.3 510.0C1075.0 526.2 1025.0 526.2 1018.7 510.0Z" fill="#1614ee" stroke="#e0401e" stroke-width="1.1"/>
<ellipse cx="1050.0" cy="510.0" rx="16.8" ry="6.1" fill="none" stroke="#6060ff" stroke-width="1" stroke-opacity="0.8"/>
<ellipse cx="1050.0" cy="510.0" rx="2.2" ry="1.6" fill="#e8e0f0"/>
<path d="M1085.2 507.5C1088.2 499.5 1111.8 499.5 1114.8 507.5C1111.8 515.5 1088.2 515.5 1085.2 507.5Z" fill="#1614ee" stroke="#e0401e" stroke-width="1.1"/>
<ellipse cx="1100.0" cy="507.5" rx="7.7" ry="2.8" fill="none" stroke="#6060ff" stroke-width="1" stroke-opacity="0.8"/>
<ellipse cx="1100.0" cy="507.5" rx="2.1" ry="0.8" fill="#e8e0f0"/>
<path d="M1113.8 508.8C1117.5 495.9 1147.5 495.9 1151.2 508.8C1147.5 521.6 1117.5 521.6 1113.8 508.8Z" fill="#1614ee" stroke="#e0401e" stroke-width="1.1"/>
<ellipse cx="1132.5" cy="508.8" rx="9.9" ry="4.8" fill="none" stroke="#6060ff" stroke-width="1" stroke-opacity="0.8"/>
<ellipse cx="1132.5" cy="508.8" rx="2.2" ry="1.4" fill="#e8e0f0"/>
<path d="M946.8 525.0C952.4 508.8 997.6 508.8 1003.2 525.0C997.6 541.2 952.4 541.2 946.8 525.0Z" fill="#1614ee" stroke="#e0401e" stroke-width="1.1"/>
<ellipse cx="975.0" cy="525.0" rx="15.1" ry="6.1" fill="none" stroke="#6060ff" stroke-width="1" stroke-opacity="0.8"/>
<ellipse cx="975.0" cy="525.0" rx="2.2" ry="1.6" fill="#e8e0f0"/>
<path d="M988.7 525.0C995.0 508.8 1045.0 508.8 1051.3 525.0C1045.0 541.2 995.0 541.2 988.7 525.0Z" fill="#1614ee" stroke="#e0401e" stroke-width="1.1"/>
<ellipse cx="1020.0" cy="525.0" rx="16.8" ry="6.1" fill="none" stroke="#6060ff" stroke-width="1" stroke-opacity="0.8"/>
<ellipse cx="1020.0" cy="525.0" rx="2.2" ry="1.6" fill="#e8e0f0"/>
<path d="M1045.9 525.0C1049.7 511.0 1080.3 511.0 1084.1 525.0C1080.3 539.0 1049.7 539.0 1045.9 525.0Z" fill="#1614ee" stroke="#e0401e" stroke-width="1.1"/>
<ellipse cx="1065.0" cy="525.0" rx="10.1" ry="5.2" fill="none" stroke="#6060ff" stroke-width="1" stroke-opacity="0.8"/>
<ellipse cx="1065.0" cy="525.0" rx="2.2" ry="1.6" fill="#e8e0f0"/>
<path d="M1106.5 535.0C1111.7 522.1 1153.3 522.1 1158.5 535.0C1153.3 547.9 1111.7 547.9 1106.5 535.0Z" fill="#1614ee" stroke="#e0401e" stroke-width="1.1"/>
<ellipse cx="1132.5" cy="535.0" rx="13.9" ry="4.8" fill="none" stroke="#6060ff" stroke-width="1" stroke-opacity="0.8"/>
<ellipse cx="1132.5" cy="535.0" rx="2.2" ry="1.4" fill="#e8e0f0"/>
<path d="M991.6 537.5C996.3 525.1 1033.7 525.1 1038.4 537.5C1033.7 549.9 996.3 549.9 991.6 537.5Z" fill="#1614ee" stroke="#e0401e" stroke-width="1.1"/>
<ellipse cx="1015.0" cy="537.5" rx="12.4" ry="4.6" fill="none" stroke="#6060ff" stroke-width="1" stroke-opacity="0.8"/>
<ellipse cx="1015.0" cy="537.5" rx="2.2" ry="1.4" fill="#e8e0f0"/>
<ellipse cx="923.8" cy="533.0" rx="2.0" ry="1.5" fill="none" stroke="#1614ee" stroke-width="2"/>
<ellipse cx="951.2" cy="513.8" rx="4.0" ry="1.5" fill="none" stroke="#1614ee" stroke-width="2"/>
<path d="M1055.3 887.6C1059.1 856.9 1089.7 856.9 1093.5 887.6C1089.7 918.3 1059.1 918.3 1055.3 887.6Z" fill="#1614ee" stroke="#e0401e" stroke-width="1.1"/>
<ellipse cx="1074.4" cy="887.6" rx="10.1" ry="11.9" fill="none" stroke="#6060ff" stroke-width="1" stroke-opacity="0.8"/>
<ellipse cx="1074.4" cy="887.6" rx="2.2" ry="1.6" fill="#e8e0f0"/>
<path d="M990.8 900.0C995.7 878.4 1035.1 878.4 1040.0 900.0C1035.1 921.6 995.7 921.6 990.8 900.0Z" fill="#1614ee" stroke="#e0401e" stroke-width="1.1"/>
<ellipse cx="1015.4" cy="900.0" rx="13.1" ry="8.2" fill="none" stroke="#6060ff" stroke-width="1" stroke-opacity="0.8"/>
<ellipse cx="1015.4" cy="900.0" rx="2.2" ry="1.6" fill="#e8e0f0"/>
<path d="M984.4 925.0C988.1 908.8 1017.7 908.8 1021.4 925.0C1017.7 941.2 988.1 941.2 984.4 925.0Z" fill="#1614ee" stroke="#e0401e" stroke-width="1.1"/>
<ellipse cx="1002.9" cy="925.0" rx="9.7" ry="6.1" fill="none" stroke="#6060ff" stroke-width="1" stroke-opacity="0.8"/>
<ellipse cx="1002.9" cy="925.0" rx="2.2" ry="1.6" fill="#e8e0f0"/>
<path d="M1021.2 928.7C1025.8 912.5 1062.2 912.5 1066.8 928.7C1062.2 945.0 1025.8 945.0 1021.2 928.7Z" fill="#1614ee" stroke="#e0401e" stroke-width="1.1"/>
<ellipse cx="1044.0" cy="928.7" rx="12.1" ry="6.1" fill="none" stroke="#6060ff" stroke-width="1" stroke-opacity="0.8"/>
<ellipse cx="1044.0" cy="928.7" rx="2.2" ry="1.6" fill="#e8e0f0"/>
<path d="M1048.0 939.4C1052.6 917.8 1089.0 917.8 1093.6 939.4C1089.0 961.0 1052.6 961.0 1048.0 939.4Z" fill="#1614ee" stroke="#e0401e" stroke-width="1.1"/>
<ellipse cx="1070.8" cy="939.4" rx="12.1" ry="8.2" fill="none" stroke="#6060ff" stroke-width="1" stroke-opacity="0.8"/>
<ellipse cx="1070.8" cy="939.4" rx="2.2" ry="1.6" fill="#e8e0f0"/>
<path d="M1069.3 923.3C1076.0 904.8 1130.0 904.8 1136.7 923.3C1130.0 941.8 1076.0 941.8 1069.3 923.3Z" fill="#1614ee" stroke="#e0401e" stroke-width="1.1"/>
<ellipse cx="1103.0" cy="923.3" rx="18.1" ry="7.0" fill="none" stroke="#6060ff" stroke-width="1" stroke-opacity="0.8"/>
<ellipse cx="1103.0" cy="923.3" rx="2.2" ry="1.6" fill="#e8e0f0"/>
<path d="M1046.2 953.7C1051.1 939.0 1090.5 939.0 1095.4 953.7C1090.5 968.4 1051.1 968.4 1046.2 953.7Z" fill="#1614ee" stroke="#e0401e" stroke-width="1.1"/>
<ellipse cx="1070.8" cy="953.7" rx="13.1" ry="5.5" fill="none" stroke="#6060ff" stroke-width="1" stroke-opacity="0.8"/>
<ellipse cx="1070.8" cy="953.7" rx="2.2" ry="1.6" fill="#e8e0f0"/>
<path d="M973.6 976.0C975.2 969.4 987.6 969.4 989.2 976.0C987.6 982.6 975.2 982.6 973.6 976.0Z" fill="#1614ee" stroke="#e0401e" stroke-width="1.1"/>
<ellipse cx="981.4" cy="976.0" rx="3.9" ry="2.2" fill="none" stroke="#6060ff" stroke-width="1" stroke-opacity="0.8"/>
<ellipse cx="981.4" cy="976.0" rx="1.1" ry="0.7" fill="#e8e0f0"/>
<path d="M1011.1 974.3C1013.4 968.7 1031.8 968.7 1034.1 974.3C1031.8 979.9 1013.4 979.9 1011.1 974.3Z" fill="#1614ee" fill-opacity="0.6"/>
<ellipse cx="1152.0" cy="831.3" rx="3.0" ry="2.0" fill="none" stroke="#1614ee" stroke-width="2"/>
<path d="M1220.0 620.4C1223.4 606.3 1250.2 606.3 1253.6 620.4C1250.2 634.5 1223.4 634.5 1220.0 620.4Z" fill="#1614ee" stroke="#e0401e" stroke-width="1.1"/>
<ellipse cx="1236.8" cy="620.4" rx="8.8" ry="5.2" fill="none" stroke="#6060ff" stroke-width="1" stroke-opacity="0.8"/>
<ellipse cx="1236.8" cy="620.4" rx="2.2" ry="1.6" fill="#e8e0f0"/>
<ellipse cx="1195.3" cy="620.4" rx="7.5" ry="3.0" fill="none" stroke="#1614ee" stroke-width="2"/>
<path d="M1275.0 653.4C1277.3 646.1 1295.3 646.1 1297.6 653.4C1295.3 660.6 1277.3 660.6 1275.0 653.4Z" fill="#1614ee" stroke="#e0401e" stroke-width="1.1"/>
<ellipse cx="1286.3" cy="653.4" rx="5.8" ry="2.5" fill="none" stroke="#6060ff" stroke-width="1" stroke-opacity="0.8"/>
<ellipse cx="1286.3" cy="653.4" rx="1.6" ry="0.8" fill="#e8e0f0"/>
<path d="M1269.7 668.2C1272.2 657.8 1291.8 657.8 1294.3 668.2C1291.8 678.6 1272.2 678.6 1269.7 668.2Z" fill="#1614ee" stroke="#e0401e" stroke-width="1.1"/>
<ellipse cx="1282.0" cy="668.2" rx="6.3" ry="3.8" fill="none" stroke="#6060ff" stroke-width="1" stroke-opacity="0.8"/>
<ellipse cx="1282.0" cy="668.2" rx="1.7" ry="1.1" fill="#e8e0f0"/>
<path d="M1300.3 689.4C1301.0 686.5 1306.2 686.5 1306.9 689.4C1306.2 692.3 1301.0 692.3 1300.3 689.4Z" fill="#1614ee" stroke="#e0401e" stroke-width="1.1"/>
<ellipse cx="1167.0" cy="667.0" rx="9.5" ry="4.0" fill="none" stroke="#1614ee" stroke-width="2"/>
<path d="M1198.2 872.2C1199.2 868.1 1206.8 868.1 1207.8 872.2C1206.8 876.3 1199.2 876.3 1198.2 872.2Z" fill="#1614ee" stroke="#e0401e" stroke-width="1.1"/>
<path d="M1258.2 967.5C1260.9 957.1 1282.1 957.1 1284.8 967.5C1282.1 977.9 1260.9 977.9 1258.2 967.5Z" fill="#1614ee" stroke="#e0401e" stroke-width="1.1"/>
<ellipse cx="1271.5" cy="967.5" rx="6.9" ry="3.8" fill="none" stroke="#6060ff" stroke-width="1" stroke-opacity="0.8"/>
<ellipse cx="1271.5" cy="967.5" rx="1.9" ry="1.1" fill="#e8e0f0"/>
<ellipse cx="1153.4" cy="831.2" rx="3.0" ry="2.0" fill="none" stroke="#1614ee" stroke-width="2"/>
<path d="M877.2 715.9C880.8 701.1 909.2 701.1 912.8 715.9C909.2 730.6 880.8 730.6 877.2 715.9Z" fill="#1614ee" stroke="#e0401e" stroke-width="1.1"/>
<ellipse cx="895.0" cy="715.9" rx="9.4" ry="5.5" fill="none" stroke="#6060ff" stroke-width="1" stroke-opacity="0.8"/>
<ellipse cx="895.0" cy="715.9" rx="2.2" ry="1.6" fill="#e8e0f0"/>
<path d="M917.6 736.9C919.6 728.4 935.2 728.4 937.2 736.9C935.2 745.4 919.6 745.4 917.6 736.9Z" fill="#1614ee" stroke="#e0401e" stroke-width="1.1"/>
<ellipse cx="927.4" cy="736.9" rx="5.0" ry="3.0" fill="none" stroke="#6060ff" stroke-width="1" stroke-opacity="0.8"/>
<ellipse cx="927.4" cy="736.9" rx="1.3" ry="0.9" fill="#e8e0f0"/>
<ellipse cx="953.7" cy="639.0" rx="6.0" ry="3.0" fill="none" stroke="#1614ee" stroke-width="2"/>
<path d="M961.9 639.0C963.5 626.5 976.3 626.5 977.9 639.0C976.3 651.5 963.5 651.5 961.9 639.0Z" fill="#1614ee" fill-opacity="0.6"/>
<ellipse cx="937.5" cy="780.6" rx="3.5" ry="2.0" fill="none" stroke="#1614ee" stroke-width="2"/>
<ellipse cx="922.5" cy="864.5" rx="3.0" ry="2.0" fill="none" stroke="#1614ee" stroke-width="2"/>
<path d="M905.4 879.8C906.6 874.4 915.8 874.4 917.0 879.8C915.8 885.2 906.6 885.2 905.4 879.8Z" fill="#1614ee" stroke="#e0401e" stroke-width="1.1"/>
<path d="M875.8 883.0C877.0 877.6 886.2 877.6 887.4 883.0C886.2 888.4 877.0 888.4 875.8 883.0Z" fill="#1614ee" stroke="#e0401e" stroke-width="1.1"/>
<path d="M901.7 927.6C902.9 922.2 912.1 922.2 913.3 927.6C912.1 933.0 902.9 933.0 901.7 927.6Z" fill="#1614ee" stroke="#e0401e" stroke-width="1.1"/>
<ellipse cx="1002.3" cy="944.6" rx="3.0" ry="2.0" fill="none" stroke="#1614ee" stroke-width="2"/>
<ellipse cx="1194.0" cy="620.7" rx="6.0" ry="3.0" fill="none" stroke="#1614ee" stroke-width="2"/>
<ellipse cx="1152.5" cy="829.8" rx="3.0" ry="2.0" fill="none" stroke="#1614ee" stroke-width="2"/>
<path d="M1198.2 871.2C1199.0 867.7 1205.0 867.7 1205.8 871.2C1205.0 874.7 1199.0 874.7 1198.2 871.2Z" fill="#1614ee" stroke="#e0401e" stroke-width="1.1"/>
<path d="M1066.4 560.7C1069.6 543.7 1095.2 543.7 1098.5 560.7C1095.2 577.7 1069.6 577.7 1066.4 560.7Z" fill="#1614ee" stroke="#e0401e" stroke-width="1.1"/>
<ellipse cx="1082.4" cy="560.7" rx="8.4" ry="6.4" fill="none" stroke="#6060ff" stroke-width="1" stroke-opacity="0.8"/>
<ellipse cx="1082.4" cy="560.7" rx="2.2" ry="1.6" fill="#e8e0f0"/>
<path d="M1062.3 583.5C1066.8 569.5 1102.2 569.5 1106.7 583.5C1102.2 597.5 1066.8 597.5 1062.3 583.5Z" fill="#1614ee" stroke="#e0401e" stroke-width="1.1"/>
<ellipse cx="1084.5" cy="583.5" rx="11.7" ry="5.2" fill="none" stroke="#6060ff" stroke-width="1" stroke-opacity="0.8"/>
<ellipse cx="1084.5" cy="583.5" rx="2.2" ry="1.6" fill="#e8e0f0"/>
<path d="M1056.6 602.0C1061.8 581.9 1103.0 581.9 1108.2 602.0C1103.0 622.1 1061.8 622.1 1056.6 602.0Z" fill="#1614ee" stroke="#e0401e" stroke-width="1.1"/>
<ellipse cx="1082.4" cy="602.0" rx="13.8" ry="7.6" fill="none" stroke="#6060ff" stroke-width="1" stroke-opacity="0.8"/>
<ellipse cx="1082.4" cy="602.0" rx="2.2" ry="1.6" fill="#e8e0f0"/>
<path d="M1120.2 629.0C1124.7 613.5 1160.1 613.5 1164.6 629.0C1160.1 644.5 1124.7 644.5 1120.2 629.0Z" fill="#1614ee" stroke="#e0401e" stroke-width="1.1"/>
<ellipse cx="1142.4" cy="629.0" rx="11.7" ry="5.8" fill="none" stroke="#6060ff" stroke-width="1" stroke-opacity="0.8"/>
<ellipse cx="1142.4" cy="629.0" rx="2.2" ry="1.6" fill="#e8e0f0"/>
<path d="M1151.5 645.5C1157.1 628.5 1202.3 628.5 1208.0 645.5C1202.3 662.5 1157.1 662.5 1151.5 645.5Z" fill="#1614ee" stroke="#e0401e" stroke-width="1.1"/>
<ellipse cx="1179.7" cy="645.5" rx="15.1" ry="6.4" fill="none" stroke="#6060ff" stroke-width="1" stroke-opacity="0.8"/>
<ellipse cx="1179.7" cy="645.5" rx="2.2" ry="1.6" fill="#e8e0f0"/>
<path d="M1187.4 621.0C1189.0 615.0 1201.4 615.0 1203.0 621.0C1201.4 627.0 1189.0 627.0 1187.4 621.0Z" fill="#1614ee" stroke="#e0401e" stroke-width="1.1"/>
<path d="M1095.9 647.6C1101.1 630.6 1142.3 630.6 1147.5 647.6C1142.3 664.6 1101.1 664.6 1095.9 647.6Z" fill="#1614ee" stroke="#e0401e" stroke-width="1.1"/>
<ellipse cx="1121.7" cy="647.6" rx="13.8" ry="6.4" fill="none" stroke="#6060ff" stroke-width="1" stroke-opacity="0.8"/>
<ellipse cx="1121.7" cy="647.6" rx="2.2" ry="1.6" fill="#e8e0f0"/>
<path d="M1066.4 664.0C1069.6 647.0 1095.2 647.0 1098.5 664.0C1095.2 681.0 1069.6 681.0 1066.4 664.0Z" fill="#1614ee" stroke="#e0401e" stroke-width="1.1"/>
<ellipse cx="1082.4" cy="664.0" rx="8.4" ry="6.4" fill="none" stroke="#6060ff" stroke-width="1" stroke-opacity="0.8"/>
<ellipse cx="1082.4" cy="664.0" rx="2.2" ry="1.6" fill="#e8e0f0"/>
<path d="M1095.9 666.0C1101.1 649.0 1142.3 649.0 1147.5 666.0C1142.3 683.0 1101.1 683.0 1095.9 666.0Z" fill="#1614ee" stroke="#e0401e" stroke-width="1.1"/>
<ellipse cx="1121.7" cy="666.0" rx="13.8" ry="6.4" fill="none" stroke="#6060ff" stroke-width="1" stroke-opacity="0.8"/>
<ellipse cx="1121.7" cy="666.0" rx="2.2" ry="1.6" fill="#e8e0f0"/>
<path d="M1089.7 680.7C1094.9 666.7 1136.1 666.7 1141.3 680.7C1136.1 694.7 1094.9 694.7 1089.7 680.7Z" fill="#1614ee" stroke="#e0401e" stroke-width="1.1"/>
<ellipse cx="1115.5" cy="680.7" rx="13.8" ry="5.2" fill="none" stroke="#6060ff" stroke-width="1" stroke-opacity="0.8"/>
<ellipse cx="1115.5" cy="680.7" rx="2.2" ry="1.6" fill="#e8e0f0"/>
<path d="M1129.3 697.3C1136.0 680.3 1190.0 680.3 1196.7 697.3C1190.0 714.3 1136.0 714.3 1129.3 697.3Z" fill="#1614ee" stroke="#e0401e" stroke-width="1.1"/>
<ellipse cx="1163.0" cy="697.3" rx="18.1" ry="6.4" fill="none" stroke="#6060ff" stroke-width="1" stroke-opacity="0.8"/>
<ellipse cx="1163.0" cy="697.3" rx="2.2" ry="1.6" fill="#e8e0f0"/>
<path d="M1112.0 722.0C1121.8 698.9 1200.2 698.9 1210.0 722.0C1200.2 745.1 1121.8 745.1 1112.0 722.0Z" fill="#1614ee" stroke="#e0401e" stroke-width="1.1"/>
<ellipse cx="1161.0" cy="722.0" rx="26.5" ry="8.8" fill="none" stroke="#6060ff" stroke-width="1" stroke-opacity="0.8"/>
<ellipse cx="1161.0" cy="722.0" rx="2.2" ry="1.6" fill="#e8e0f0"/>
<path d="M1089.2 734.5C1095.7 714.4 1147.7 714.4 1154.2 734.5C1147.7 754.6 1095.7 754.6 1089.2 734.5Z" fill="#1614ee" stroke="#e0401e" stroke-width="1.1"/>
<ellipse cx="1121.7" cy="734.5" rx="17.4" ry="7.6" fill="none" stroke="#6060ff" stroke-width="1" stroke-opacity="0.8"/>
<ellipse cx="1121.7" cy="734.5" rx="2.2" ry="1.6" fill="#e8e0f0"/>
<path d="M1064.9 747.0C1070.1 730.0 1111.3 730.0 1116.5 747.0C1111.3 764.0 1070.1 764.0 1064.9 747.0Z" fill="#1614ee" stroke="#e0401e" stroke-width="1.1"/>
<ellipse cx="1090.7" cy="747.0" rx="13.8" ry="6.4" fill="none" stroke="#6060ff" stroke-width="1" stroke-opacity="0.8"/>
<ellipse cx="1090.7" cy="747.0" rx="2.2" ry="1.6" fill="#e8e0f0"/>
<path d="M1071.3 622.8C1075.2 605.8 1106.8 605.8 1110.7 622.8C1106.8 639.8 1075.2 639.8 1071.3 622.8Z" fill="#1614ee" stroke="#e0401e" stroke-width="1.1"/>
<ellipse cx="1091.0" cy="622.8" rx="10.4" ry="6.4" fill="none" stroke="#6060ff" stroke-width="1" stroke-opacity="0.8"/>
<ellipse cx="1091.0" cy="622.8" rx="2.2" ry="1.6" fill="#e8e0f0"/>
<path d="M1024.2 556.5C1029.4 541.0 1070.6 541.0 1075.8 556.5C1070.6 572.0 1029.4 572.0 1024.2 556.5Z" fill="#1614ee" stroke="#e0401e" stroke-width="1.1"/>
<ellipse cx="1050.0" cy="556.5" rx="13.8" ry="5.8" fill="none" stroke="#6060ff" stroke-width="1" stroke-opacity="0.8"/>
<ellipse cx="1050.0" cy="556.5" rx="2.2" ry="1.6" fill="#e8e0f0"/>
<path d="M1049.3 585.5C1052.8 573.8 1080.4 573.8 1083.9 585.5C1080.4 597.2 1052.8 597.2 1049.3 585.5Z" fill="#1614ee" stroke="#e0401e" stroke-width="1.1"/>
<ellipse cx="1066.6" cy="585.5" rx="9.1" ry="4.3" fill="none" stroke="#6060ff" stroke-width="1" stroke-opacity="0.8"/>
<ellipse cx="1066.6" cy="585.5" rx="2.2" ry="1.3" fill="#e8e0f0"/>
<path d="M1020.1 598.0C1025.3 582.5 1066.5 582.5 1071.7 598.0C1066.5 613.5 1025.3 613.5 1020.1 598.0Z" fill="#1614ee" stroke="#e0401e" stroke-width="1.1"/>
<ellipse cx="1045.9" cy="598.0" rx="13.8" ry="5.8" fill="none" stroke="#6060ff" stroke-width="1" stroke-opacity="0.8"/>
<ellipse cx="1045.9" cy="598.0" rx="2.2" ry="1.6" fill="#e8e0f0"/>
<path d="M1001.4 614.5C1006.6 597.5 1047.8 597.5 1053.0 614.5C1047.8 631.5 1006.6 631.5 1001.4 614.5Z" fill="#1614ee" stroke="#e0401e" stroke-width="1.1"/>
<ellipse cx="1027.2" cy="614.5" rx="13.8" ry="6.4" fill="none" stroke="#6060ff" stroke-width="1" stroke-opacity="0.8"/>
<ellipse cx="1027.2" cy="614.5" rx="2.2" ry="1.6" fill="#e8e0f0"/>
<path d="M1040.2 608.3C1044.7 592.8 1080.1 592.8 1084.6 608.3C1080.1 623.8 1044.7 623.8 1040.2 608.3Z" fill="#1614ee" stroke="#e0401e" stroke-width="1.1"/>
<ellipse cx="1062.4" cy="608.3" rx="11.7" ry="5.8" fill="none" stroke="#6060ff" stroke-width="1" stroke-opacity="0.8"/>
<ellipse cx="1062.4" cy="608.3" rx="2.2" ry="1.6" fill="#e8e0f0"/>
<path d="M982.7 643.5C986.6 629.5 1018.2 629.5 1022.1 643.5C1018.2 657.5 986.6 657.5 982.7 643.5Z" fill="#1614ee" stroke="#e0401e" stroke-width="1.1"/>
<ellipse cx="1002.4" cy="643.5" rx="10.4" ry="5.2" fill="none" stroke="#6060ff" stroke-width="1" stroke-opacity="0.8"/>
<ellipse cx="1002.4" cy="643.5" rx="2.2" ry="1.6" fill="#e8e0f0"/>
<path d="M923.7 676.0C930.0 662.0 980.0 662.0 986.3 676.0C980.0 690.0 930.0 690.0 923.7 676.0Z" fill="#1614ee" stroke="#e0401e" stroke-width="1.1"/>
<ellipse cx="955.0" cy="676.0" rx="16.8" ry="5.2" fill="none" stroke="#6060ff" stroke-width="1" stroke-opacity="0.8"/>
<ellipse cx="955.0" cy="676.0" rx="2.2" ry="1.6" fill="#e8e0f0"/>
<path d="M969.8 680.0C974.8 663.8 1015.2 663.8 1020.2 680.0C1015.2 696.2 974.8 696.2 969.8 680.0Z" fill="#1614ee" stroke="#e0401e" stroke-width="1.1"/>
<ellipse cx="995.0" cy="680.0" rx="13.4" ry="6.1" fill="none" stroke="#6060ff" stroke-width="1" stroke-opacity="0.8"/>
<ellipse cx="995.0" cy="680.0" rx="2.2" ry="1.6" fill="#e8e0f0"/>
<path d="M1006.7 689.0C1010.4 670.5 1040.0 670.5 1043.7 689.0C1040.0 707.5 1010.4 707.5 1006.7 689.0Z" fill="#1614ee" stroke="#e0401e" stroke-width="1.1"/>
<ellipse cx="1025.2" cy="689.0" rx="9.7" ry="7.0" fill="none" stroke="#6060ff" stroke-width="1" stroke-opacity="0.8"/>
<ellipse cx="1025.2" cy="689.0" rx="2.2" ry="1.6" fill="#e8e0f0"/>
<path d="M1022.5 655.9C1027.2 638.9 1064.6 638.9 1069.3 655.9C1064.6 672.9 1027.2 672.9 1022.5 655.9Z" fill="#1614ee" stroke="#e0401e" stroke-width="1.1"/>
<ellipse cx="1045.9" cy="655.9" rx="12.4" ry="6.4" fill="none" stroke="#6060ff" stroke-width="1" stroke-opacity="0.8"/>
<ellipse cx="1045.9" cy="655.9" rx="2.2" ry="1.6" fill="#e8e0f0"/>
<path d="M1028.2 693.0C1033.4 679.0 1074.6 679.0 1079.8 693.0C1074.6 707.0 1033.4 707.0 1028.2 693.0Z" fill="#1614ee" stroke="#e0401e" stroke-width="1.1"/>
<ellipse cx="1054.0" cy="693.0" rx="13.8" ry="5.2" fill="none" stroke="#6060ff" stroke-width="1" stroke-opacity="0.8"/>
<ellipse cx="1054.0" cy="693.0" rx="2.2" ry="1.6" fill="#e8e0f0"/>
<path d="M1020.1 722.0C1025.3 705.0 1066.5 705.0 1071.7 722.0C1066.5 739.0 1025.3 739.0 1020.1 722.0Z" fill="#1614ee" stroke="#e0401e" stroke-width="1.1"/>
<ellipse cx="1045.9" cy="722.0" rx="13.8" ry="6.4" fill="none" stroke="#6060ff" stroke-width="1" stroke-opacity="0.8"/>
<ellipse cx="1045.9" cy="722.0" rx="2.2" ry="1.6" fill="#e8e0f0"/>
<path d="M933.2 734.5C938.4 719.0 979.6 719.0 984.8 734.5C979.6 750.0 938.4 750.0 933.2 734.5Z" fill="#1614ee" stroke="#e0401e" stroke-width="1.1"/>
<ellipse cx="959.0" cy="734.5" rx="13.8" ry="5.8" fill="none" stroke="#6060ff" stroke-width="1" stroke-opacity="0.8"/>
<ellipse cx="959.0" cy="734.5" rx="2.2" ry="1.6" fill="#e8e0f0"/>
<path d="M972.3 738.6C976.2 724.6 1007.8 724.6 1011.7 738.6C1007.8 752.6 976.2 752.6 972.3 738.6Z" fill="#1614ee" stroke="#e0401e" stroke-width="1.1"/>
<ellipse cx="992.0" cy="738.6" rx="10.4" ry="5.2" fill="none" stroke="#6060ff" stroke-width="1" stroke-opacity="0.8"/>
<ellipse cx="992.0" cy="738.6" rx="2.2" ry="1.6" fill="#e8e0f0"/>
<path d="M1032.5 744.8C1037.7 727.8 1078.9 727.8 1084.1 744.8C1078.9 761.8 1037.7 761.8 1032.5 744.8Z" fill="#1614ee" stroke="#e0401e" stroke-width="1.1"/>
<ellipse cx="1058.3" cy="744.8" rx="13.8" ry="6.4" fill="none" stroke="#6060ff" stroke-width="1" stroke-opacity="0.8"/>
<ellipse cx="1058.3" cy="744.8" rx="2.2" ry="1.6" fill="#e8e0f0"/>
<path d="M961.7 718.0C965.7 708.0 997.7 708.0 1001.7 718.0C997.7 728.0 965.7 728.0 961.7 718.0Z" fill="#1614ee" fill-opacity="0.6"/>
<path d="M1015.4 748.0C1022.0 731.8 1075.0 731.8 1081.6 748.0C1075.0 764.2 1022.0 764.2 1015.4 748.0Z" fill="#1614ee" stroke="#e0401e" stroke-width="1.1"/>
<ellipse cx="1048.5" cy="748.0" rx="17.8" ry="6.1" fill="none" stroke="#6060ff" stroke-width="1" stroke-opacity="0.8"/>
<ellipse cx="1048.5" cy="748.0" rx="2.2" ry="1.6" fill="#e8e0f0"/>
<path d="M944.0 766.3C949.9 750.0 997.1 750.0 1003.0 766.3C997.1 782.5 949.9 782.5 944.0 766.3Z" fill="#1614ee" stroke="#e0401e" stroke-width="1.1"/>
<ellipse cx="973.5" cy="766.3" rx="15.8" ry="6.1" fill="none" stroke="#6060ff" stroke-width="1" stroke-opacity="0.8"/>
<ellipse cx="973.5" cy="766.3" rx="2.2" ry="1.6" fill="#e8e0f0"/>
<path d="M937.4 791.4C940.1 781.2 961.9 781.2 964.6 791.4C961.9 801.5 940.1 801.5 937.4 791.4Z" fill="#1614ee" stroke="#e0401e" stroke-width="1.1"/>
<ellipse cx="951.0" cy="791.4" rx="7.0" ry="3.7" fill="none" stroke="#6060ff" stroke-width="1" stroke-opacity="0.8"/>
<ellipse cx="951.0" cy="791.4" rx="1.9" ry="1.1" fill="#e8e0f0"/>
<path d="M944.3 776.9C949.3 763.7 989.7 763.7 994.7 776.9C989.7 790.1 949.3 790.1 944.3 776.9Z" fill="#1614ee" stroke="#e0401e" stroke-width="1.1"/>
<ellipse cx="969.5" cy="776.9" rx="13.4" ry="4.9" fill="none" stroke="#6060ff" stroke-width="1" stroke-opacity="0.8"/>
<ellipse cx="969.5" cy="776.9" rx="2.2" ry="1.5" fill="#e8e0f0"/>
<path d="M1056.0 773.0C1058.7 762.1 1080.5 762.1 1083.2 773.0C1080.5 783.9 1058.7 783.9 1056.0 773.0Z" fill="#1614ee" stroke="#e0401e" stroke-width="1.1"/>
<ellipse cx="1069.6" cy="773.0" rx="7.0" ry="4.0" fill="none" stroke="#6060ff" stroke-width="1" stroke-opacity="0.8"/>
<ellipse cx="1069.6" cy="773.0" rx="1.9" ry="1.2" fill="#e8e0f0"/>
<path d="M1003.6 812.4C1008.6 799.2 1049.0 799.2 1054.0 812.4C1049.0 825.6 1008.6 825.6 1003.6 812.4Z" fill="#1614ee" stroke="#e0401e" stroke-width="1.1"/>
<ellipse cx="1028.8" cy="812.4" rx="13.4" ry="4.9" fill="none" stroke="#6060ff" stroke-width="1" stroke-opacity="0.8"/>
<ellipse cx="1028.8" cy="812.4" rx="2.2" ry="1.5" fill="#e8e0f0"/>
<path d="M960.5 815.0C963.1 804.1 983.9 804.1 986.5 815.0C983.9 825.9 963.1 825.9 960.5 815.0Z" fill="#1614ee" stroke="#e0401e" stroke-width="1.1"/>
<ellipse cx="973.5" cy="815.0" rx="6.7" ry="4.0" fill="none" stroke="#6060ff" stroke-width="1" stroke-opacity="0.8"/>
<ellipse cx="973.5" cy="815.0" rx="1.8" ry="1.2" fill="#e8e0f0"/>
<path d="M962.8 834.8C969.4 818.5 1022.4 818.5 1029.0 834.8C1022.4 851.0 969.4 851.0 962.8 834.8Z" fill="#1614ee" stroke="#e0401e" stroke-width="1.1"/>
<ellipse cx="995.9" cy="834.8" rx="17.8" ry="6.1" fill="none" stroke="#6060ff" stroke-width="1" stroke-opacity="0.8"/>
<ellipse cx="995.9" cy="834.8" rx="2.2" ry="1.6" fill="#e8e0f0"/>
<path d="M1016.8 832.2C1021.8 818.2 1062.2 818.2 1067.2 832.2C1062.2 846.2 1021.8 846.2 1016.8 832.2Z" fill="#1614ee" stroke="#e0401e" stroke-width="1.1"/>
<ellipse cx="1042.0" cy="832.2" rx="13.4" ry="5.2" fill="none" stroke="#6060ff" stroke-width="1" stroke-opacity="0.8"/>
<ellipse cx="1042.0" cy="832.2" rx="2.2" ry="1.6" fill="#e8e0f0"/>
<path d="M1051.6 832.2C1055.0 811.4 1081.6 811.4 1085.0 832.2C1081.6 853.0 1055.0 853.0 1051.6 832.2Z" fill="#1614ee" stroke="#e0401e" stroke-width="1.1"/>
<ellipse cx="1068.3" cy="832.2" rx="8.7" ry="7.9" fill="none" stroke="#6060ff" stroke-width="1" stroke-opacity="0.8"/>
<ellipse cx="1068.3" cy="832.2" rx="2.2" ry="1.6" fill="#e8e0f0"/>
<path d="M997.0 858.5C1002.0 845.3 1042.4 845.3 1047.4 858.5C1042.4 871.7 1002.0 871.7 997.0 858.5Z" fill="#1614ee" stroke="#e0401e" stroke-width="1.1"/>
<ellipse cx="1022.2" cy="858.5" rx="13.4" ry="4.9" fill="none" stroke="#6060ff" stroke-width="1" stroke-opacity="0.8"/>
<ellipse cx="1022.2" cy="858.5" rx="2.2" ry="1.5" fill="#e8e0f0"/>
<path d="M990.8 870.4C995.0 857.2 1028.4 857.2 1032.6 870.4C1028.4 883.6 995.0 883.6 990.8 870.4Z" fill="#1614ee" stroke="#e0401e" stroke-width="1.1"/>
<ellipse cx="1011.7" cy="870.4" rx="11.1" ry="4.9" fill="none" stroke="#6060ff" stroke-width="1" stroke-opacity="0.8"/>
<ellipse cx="1011.7" cy="870.4" rx="2.2" ry="1.5" fill="#e8e0f0"/>
<path d="M990.0 795.0C993.0 785.0 1017.0 785.0 1020.0 795.0C1017.0 805.0 993.0 805.0 990.0 795.0Z" fill="#1614ee" fill-opacity="0.6"/>
<path d="M1073.8 773.0C1078.8 756.0 1119.2 756.0 1124.2 773.0C1119.2 790.0 1078.8 790.0 1073.8 773.0Z" fill="#1614ee" stroke="#e0401e" stroke-width="1.1"/>
<ellipse cx="1099.0" cy="773.0" rx="13.4" ry="6.4" fill="none" stroke="#6060ff" stroke-width="1" stroke-opacity="0.8"/>
<ellipse cx="1099.0" cy="773.0" rx="2.2" ry="1.6" fill="#e8e0f0"/>
<path d="M1093.8 750.5C1099.6 734.2 1145.8 734.2 1151.6 750.5C1145.8 766.8 1099.6 766.8 1093.8 750.5Z" fill="#1614ee" stroke="#e0401e" stroke-width="1.1"/>
<ellipse cx="1122.7" cy="750.5" rx="15.4" ry="6.1" fill="none" stroke="#6060ff" stroke-width="1" stroke-opacity="0.8"/>
<ellipse cx="1122.7" cy="750.5" rx="2.2" ry="1.6" fill="#e8e0f0"/>
<path d="M1134.7 750.5C1138.9 737.3 1172.3 737.3 1176.5 750.5C1172.3 763.7 1138.9 763.7 1134.7 750.5Z" fill="#1614ee" stroke="#e0401e" stroke-width="1.1"/>
<ellipse cx="1155.6" cy="750.5" rx="11.1" ry="4.9" fill="none" stroke="#6060ff" stroke-width="1" stroke-opacity="0.8"/>
<ellipse cx="1155.6" cy="750.5" rx="2.2" ry="1.5" fill="#e8e0f0"/>
<path d="M1102.7 787.4C1109.3 770.4 1162.3 770.4 1168.9 787.4C1162.3 804.4 1109.3 804.4 1102.7 787.4Z" fill="#1614ee" stroke="#e0401e" stroke-width="1.1"/>
<ellipse cx="1135.8" cy="787.4" rx="17.8" ry="6.4" fill="none" stroke="#6060ff" stroke-width="1" stroke-opacity="0.8"/>
<ellipse cx="1135.8" cy="787.4" rx="2.2" ry="1.6" fill="#e8e0f0"/>
<path d="M1150.5 783.5C1154.7 769.5 1188.1 769.5 1192.3 783.5C1188.1 797.5 1154.7 797.5 1150.5 783.5Z" fill="#1614ee" stroke="#e0401e" stroke-width="1.1"/>
<ellipse cx="1171.4" cy="783.5" rx="11.1" ry="5.2" fill="none" stroke="#6060ff" stroke-width="1" stroke-opacity="0.8"/>
<ellipse cx="1171.4" cy="783.5" rx="2.2" ry="1.6" fill="#e8e0f0"/>
<path d="M1163.8 798.0C1170.1 781.8 1220.1 781.8 1226.4 798.0C1220.1 814.2 1170.1 814.2 1163.8 798.0Z" fill="#1614ee" stroke="#e0401e" stroke-width="1.1"/>
<ellipse cx="1195.1" cy="798.0" rx="16.8" ry="6.1" fill="none" stroke="#6060ff" stroke-width="1" stroke-opacity="0.8"/>
<ellipse cx="1195.1" cy="798.0" rx="2.2" ry="1.6" fill="#e8e0f0"/>
<path d="M1081.7 817.7C1088.3 796.9 1141.3 796.9 1147.9 817.7C1141.3 838.5 1088.3 838.5 1081.7 817.7Z" fill="#1614ee" stroke="#e0401e" stroke-width="1.1"/>
<ellipse cx="1114.8" cy="817.7" rx="17.8" ry="7.9" fill="none" stroke="#6060ff" stroke-width="1" stroke-opacity="0.8"/>
<ellipse cx="1114.8" cy="817.7" rx="2.2" ry="1.6" fill="#e8e0f0"/>
<path d="M1073.1 805.9C1076.5 792.7 1103.1 792.7 1106.5 805.9C1103.1 819.1 1076.5 819.1 1073.1 805.9Z" fill="#1614ee" stroke="#e0401e" stroke-width="1.1"/>
<ellipse cx="1089.8" cy="805.9" rx="8.7" ry="4.9" fill="none" stroke="#6060ff" stroke-width="1" stroke-opacity="0.8"/>
<ellipse cx="1089.8" cy="805.9" rx="2.2" ry="1.5" fill="#e8e0f0"/>
<path d="M1063.6 832.2C1066.2 811.4 1087.0 811.4 1089.6 832.2C1087.0 853.0 1066.2 853.0 1063.6 832.2Z" fill="#1614ee" stroke="#e0401e" stroke-width="1.1"/>
<ellipse cx="1076.6" cy="832.2" rx="6.7" ry="7.9" fill="none" stroke="#6060ff" stroke-width="1" stroke-opacity="0.8"/>
<ellipse cx="1076.6" cy="832.2" rx="1.8" ry="1.6" fill="#e8e0f0"/>
<path d="M1078.8 854.6C1083.1 840.6 1117.5 840.6 1121.8 854.6C1117.5 868.6 1083.1 868.6 1078.8 854.6Z" fill="#1614ee" stroke="#e0401e" stroke-width="1.1"/>
<ellipse cx="1100.3" cy="854.6" rx="11.4" ry="5.2" fill="none" stroke="#6060ff" stroke-width="1" stroke-opacity="0.8"/>
<ellipse cx="1100.3" cy="854.6" rx="2.2" ry="1.6" fill="#e8e0f0"/>
<path d="M1105.7 865.1C1109.9 845.8 1143.3 845.8 1147.5 865.1C1143.3 884.4 1109.9 884.4 1105.7 865.1Z" fill="#1614ee" stroke="#e0401e" stroke-width="1.1"/>
<ellipse cx="1126.6" cy="865.1" rx="11.1" ry="7.3" fill="none" stroke="#6060ff" stroke-width="1" stroke-opacity="0.8"/>
<ellipse cx="1126.6" cy="865.1" rx="2.2" ry="1.6" fill="#e8e0f0"/>
<path d="M1072.8 875.7C1075.4 867.1 1096.2 867.1 1098.8 875.7C1096.2 884.3 1075.4 884.3 1072.8 875.7Z" fill="#1614ee" stroke="#e0401e" stroke-width="1.1"/>
<ellipse cx="1085.8" cy="875.7" rx="6.7" ry="3.0" fill="none" stroke="#6060ff" stroke-width="1" stroke-opacity="0.8"/>
<ellipse cx="1085.8" cy="875.7" rx="1.8" ry="0.9" fill="#e8e0f0"/>
<ellipse cx="1152.3" cy="830.9" rx="3.0" ry="2.0" fill="none" stroke="#1614ee" stroke-width="2"/>
<ellipse cx="1126.6" cy="850.0" rx="2.0" ry="1.0" fill="none" stroke="#1614ee" stroke-width="2"/>
<path d="M877.2 715.9C880.8 701.1 909.2 701.1 912.8 715.9C909.2 730.6 880.8 730.6 877.2 715.9Z" fill="#1614ee" stroke="#e0401e" stroke-width="1.1"/>
<ellipse cx="895.0" cy="715.9" rx="9.4" ry="5.5" fill="none" stroke="#6060ff" stroke-width="1" stroke-opacity="0.8"/>
<ellipse cx="895.0" cy="715.9" rx="2.2" ry="1.6" fill="#e8e0f0"/>
<path d="M917.6 736.9C919.6 728.4 935.2 728.4 937.2 736.9C935.2 745.4 919.6 745.4 917.6 736.9Z" fill="#1614ee" stroke="#e0401e" stroke-width="1.1"/>
<ellipse cx="927.4" cy="736.9" rx="5.0" ry="3.0" fill="none" stroke="#6060ff" stroke-width="1" stroke-opacity="0.8"/>
<ellipse cx="927.4" cy="736.9" rx="1.3" ry="0.9" fill="#e8e0f0"/>
<path d="M941.9 790.8C943.9 782.3 959.5 782.3 961.5 790.8C959.5 799.3 943.9 799.3 941.9 790.8Z" fill="#1614ee" stroke="#e0401e" stroke-width="1.1"/>
<ellipse cx="951.7" cy="790.8" rx="5.0" ry="3.0" fill="none" stroke="#6060ff" stroke-width="1" stroke-opacity="0.8"/>
<ellipse cx="951.7" cy="790.8" rx="1.3" ry="0.9" fill="#e8e0f0"/>
<path d="M1220.0 620.4C1223.4 606.3 1250.2 606.3 1253.6 620.4C1250.2 634.5 1223.4 634.5 1220.0 620.4Z" fill="#1614ee" stroke="#e0401e" stroke-width="1.1"/>
<ellipse cx="1236.8" cy="620.4" rx="8.8" ry="5.2" fill="none" stroke="#6060ff" stroke-width="1" stroke-opacity="0.8"/>
<ellipse cx="1236.8" cy="620.4" rx="2.2" ry="1.6" fill="#e8e0f0"/>
<path d="M1275.0 653.4C1277.3 646.1 1295.3 646.1 1297.6 653.4C1295.3 660.6 1277.3 660.6 1275.0 653.4Z" fill="#1614ee" stroke="#e0401e" stroke-width="1.1"/>
<ellipse cx="1286.3" cy="653.4" rx="5.8" ry="2.5" fill="none" stroke="#6060ff" stroke-width="1" stroke-opacity="0.8"/>
<ellipse cx="1286.3" cy="653.4" rx="1.6" ry="0.8" fill="#e8e0f0"/>
<path d="M1269.7 668.2C1272.2 657.8 1291.8 657.8 1294.3 668.2C1291.8 678.6 1272.2 678.6 1269.7 668.2Z" fill="#1614ee" stroke="#e0401e" stroke-width="1.1"/>
<ellipse cx="1282.0" cy="668.2" rx="6.3" ry="3.8" fill="none" stroke="#6060ff" stroke-width="1" stroke-opacity="0.8"/>
<ellipse cx="1282.0" cy="668.2" rx="1.7" ry="1.1" fill="#e8e0f0"/>
</g><g font-family="Liberation Sans, sans-serif" font-size="19" fill="#2a2a2a">
<text x="357" y="331">712T</text>
<text x="411" y="435">714T</text>
<text x="209.5" y="440">705S</text>
<text x="362" y="559">713S</text>
<text x="211" y="867.5">711L</text>
<text x="420" y="860">707L</text>
<text x="427.5" y="887.5">715L</text>
<text x="523" y="940">716R</text>
</g><g stroke="#111" stroke-width="2.6" stroke-linecap="round">
<line x1="400.75" y1="331.25" x2="412" y2="356.25"/>
<path d="M408.5 352.75L415.5 359.75M408.5 359.75L415.5 352.75" stroke-width="2"/>
<line x1="408" y1="428.75" x2="389.5" y2="432.5"/>
<path d="M386.0 429.0L393.0 436.0M386.0 436.0L393.0 429.0" stroke-width="2"/>
<line x1="254.5" y1="440" x2="263" y2="451"/>
<path d="M259.5 447.5L266.5 454.5M259.5 454.5L266.5 447.5" stroke-width="2"/>
<line x1="360.75" y1="546" x2="339.5" y2="525"/>
<path d="M336.0 521.5L343.0 528.5M336.0 528.5L343.0 521.5" stroke-width="2"/>
<line x1="252.5" y1="860" x2="270" y2="876"/>
<path d="M266.5 872.5L273.5 879.5M266.5 879.5L273.5 872.5" stroke-width="2"/>
<line x1="420" y1="856" x2="382.5" y2="873.75"/>
<path d="M379.0 870.25L386.0 877.25M379.0 877.25L386.0 870.25" stroke-width="2"/>
<line x1="422.5" y1="880" x2="387.5" y2="875"/>
<path d="M384.0 871.5L391.0 878.5M384.0 878.5L391.0 871.5" stroke-width="2"/>
<line x1="543.7" y1="944" x2="538.8" y2="967.7"/>
<path d="M535.3 964.2L542.3 971.2M535.3 971.2L542.3 964.2" stroke-width="2"/>
</g><g font-family="Liberation Serif, serif" font-size="22" fill="#1a1a1a"><rect x="86.5" y="50.7" width="550.5" height="939.3" fill="none" stroke="#555" stroke-width="2.1"/>
<text transform="translate(104.1,43.1) scale(1,1.1)" text-anchor="middle">8.8</text>
<text transform="translate(104.1,1014.6) scale(1,1.08)" text-anchor="middle">8.8</text>
<text transform="translate(202.7,43.1) scale(1,1.1)" text-anchor="middle">8.6</text>
<text transform="translate(202.7,1014.6) scale(1,1.08)" text-anchor="middle">8.6</text>
<text transform="translate(301.3,43.1) scale(1,1.1)" text-anchor="middle">8.4</text>
<text transform="translate(301.3,1014.6) scale(1,1.08)" text-anchor="middle">8.4</text>
<text transform="translate(399.9,43.1) scale(1,1.1)" text-anchor="middle">8.2</text>
<text transform="translate(399.9,1014.6) scale(1,1.08)" text-anchor="middle">8.2</text>
<text transform="translate(498.5,43.1) scale(1,1.1)" text-anchor="middle">8.0</text>
<text transform="translate(498.5,1014.6) scale(1,1.08)" text-anchor="middle">8.0</text>
<text transform="translate(597.1,43.1) scale(1,1.1)" text-anchor="middle">7.8</text>
<text transform="translate(597.1,1014.6) scale(1,1.08)" text-anchor="middle">7.8</text>
<text transform="translate(77.5,138.6) scale(1,1.1)" text-anchor="end">110</text>
<text transform="translate(646,138.6) scale(1,1.1)" text-anchor="start">110</text>
<text transform="translate(77.5,385.1) scale(1,1.1)" text-anchor="end">115</text>
<text transform="translate(646,385.1) scale(1,1.1)" text-anchor="start">115</text>
<text transform="translate(77.5,631.6) scale(1,1.1)" text-anchor="end">120</text>
<text transform="translate(646,631.6) scale(1,1.1)" text-anchor="start">120</text>
<text transform="translate(77.5,878.1) scale(1,1.1)" text-anchor="end">125</text>
<text transform="translate(646,878.1) scale(1,1.1)" text-anchor="start">125</text>
<path d="M104.1 50.7v-6M104.1 990v6M128.8 50.7v-4.5M128.8 990v4.5M153.4 50.7v-4.5M153.4 990v4.5M178.1 50.7v-4.5M178.1 990v4.5M202.7 50.7v-6M202.7 990v6M227.3 50.7v-4.5M227.3 990v4.5M252 50.7v-4.5M252 990v4.5M276.7 50.7v-4.5M276.7 990v4.5M301.3 50.7v-6M301.3 990v6M326 50.7v-4.5M326 990v4.5M350.6 50.7v-4.5M350.6 990v4.5M375.3 50.7v-4.5M375.3 990v4.5M399.9 50.7v-6M399.9 990v6M424.6 50.7v-4.5M424.6 990v4.5M449.2 50.7v-4.5M449.2 990v4.5M473.9 50.7v-4.5M473.9 990v4.5M498.5 50.7v-6M498.5 990v6M523.2 50.7v-4.5M523.2 990v4.5M547.8 50.7v-4.5M547.8 990v4.5M572.5 50.7v-4.5M572.5 990v4.5M597.1 50.7v-6M597.1 990v6M621.8 50.7v-4.5M621.8 990v4.5M86.5 82.1h-5M637 82.1h5M86.5 131.4h-7M637 131.4h7M86.5 180.7h-5M637 180.7h5M86.5 230h-5M637 230h5M86.5 279.3h-5M637 279.3h5M86.5 328.6h-5M637 328.6h5M86.5 377.9h-7M637 377.9h7M86.5 427.2h-5M637 427.2h5M86.5 476.5h-5M637 476.5h5M86.5 525.8h-5M637 525.8h5M86.5 575.1h-5M637 575.1h5M86.5 624.4h-7M637 624.4h7M86.5 673.7h-5M637 673.7h5M86.5 723h-5M637 723h5M86.5 772.3h-5M637 772.3h5M86.5 821.6h-5M637 821.6h5M86.5 870.9h-7M637 870.9h7M86.5 920.2h-5M637 920.2h5M86.5 969.5h-5M637 969.5h5" stroke="#262626" stroke-width="1.8" fill="none"/><rect x="814.3" y="50.7" width="540" height="939.3" fill="none" stroke="#555" stroke-width="2.1"/>
<text transform="translate(840,43.1) scale(1,1.1)" text-anchor="middle">8.8</text>
<text transform="translate(840,1014.6) scale(1,1.08)" text-anchor="middle">8.8</text>
<text transform="translate(938.1,43.1) scale(1,1.1)" text-anchor="middle">8.6</text>
<text transform="translate(938.1,1014.6) scale(1,1.08)" text-anchor="middle">8.6</text>
<text transform="translate(1036.2,43.1) scale(1,1.1)" text-anchor="middle">8.4</text>
<text transform="translate(1036.2,1014.6) scale(1,1.08)" text-anchor="middle">8.4</text>
<text transform="translate(1134.2,43.1) scale(1,1.1)" text-anchor="middle">8.2</text>
<text transform="translate(1134.2,1014.6) scale(1,1.08)" text-anchor="middle">8.2</text>
<text transform="translate(1232.3,43.1) scale(1,1.1)" text-anchor="middle">8.0</text>
<text transform="translate(1232.3,1014.6) scale(1,1.08)" text-anchor="middle">8.0</text>
<text transform="translate(1330.4,43.1) scale(1,1.1)" text-anchor="middle">7.8</text>
<text transform="translate(1330.4,1014.6) scale(1,1.08)" text-anchor="middle">7.8</text>
<text transform="translate(805.3,147.7) scale(1,1.1)" text-anchor="end">110</text>
<text transform="translate(1364.8,147.7) scale(1,1.1)" text-anchor="start">110</text>
<text transform="translate(805.3,392.7) scale(1,1.1)" text-anchor="end">115</text>
<text transform="translate(1364.8,392.7) scale(1,1.1)" text-anchor="start">115</text>
<text transform="translate(805.3,637.7) scale(1,1.1)" text-anchor="end">120</text>
<text transform="translate(1364.8,637.7) scale(1,1.1)" text-anchor="start">120</text>
<text transform="translate(805.3,882.7) scale(1,1.1)" text-anchor="end">125</text>
<text transform="translate(1364.8,882.7) scale(1,1.1)" text-anchor="start">125</text>
<path d="M815.5 50.7v-4.5M815.5 990v4.5M840 50.7v-6M840 990v6M864.5 50.7v-4.5M864.5 990v4.5M889 50.7v-4.5M889 990v4.5M913.6 50.7v-4.5M913.6 990v4.5M938.1 50.7v-6M938.1 990v6M962.6 50.7v-4.5M962.6 990v4.5M987.1 50.7v-4.5M987.1 990v4.5M1011.6 50.7v-4.5M1011.6 990v4.5M1036.2 50.7v-6M1036.2 990v6M1060.7 50.7v-4.5M1060.7 990v4.5M1085.2 50.7v-4.5M1085.2 990v4.5M1109.7 50.7v-4.5M1109.7 990v4.5M1134.2 50.7v-6M1134.2 990v6M1158.8 50.7v-4.5M1158.8 990v4.5M1183.3 50.7v-4.5M1183.3 990v4.5M1207.8 50.7v-4.5M1207.8 990v4.5M1232.3 50.7v-6M1232.3 990v6M1256.8 50.7v-4.5M1256.8 990v4.5M1281.4 50.7v-4.5M1281.4 990v4.5M1305.9 50.7v-4.5M1305.9 990v4.5M1330.4 50.7v-6M1330.4 990v6M814.3 91.5h-5M1354.3 91.5h5M814.3 140.5h-7M1354.3 140.5h7M814.3 189.5h-5M1354.3 189.5h5M814.3 238.5h-5M1354.3 238.5h5M814.3 287.5h-5M1354.3 287.5h5M814.3 336.5h-5M1354.3 336.5h5M814.3 385.5h-7M1354.3 385.5h7M814.3 434.5h-5M1354.3 434.5h5M814.3 483.5h-5M1354.3 483.5h5M814.3 532.5h-5M1354.3 532.5h5M814.3 581.5h-5M1354.3 581.5h5M814.3 630.5h-7M1354.3 630.5h7M814.3 679.5h-5M1354.3 679.5h5M814.3 728.5h-5M1354.3 728.5h5M814.3 777.5h-5M1354.3 777.5h5M814.3 826.5h-5M1354.3 826.5h5M814.3 875.5h-7M1354.3 875.5h7M814.3 924.5h-5M1354.3 924.5h5M814.3 973.5h-5M1354.3 973.5h5" stroke="#262626" stroke-width="1.8" fill="none"/></g></svg>
</body></html>
